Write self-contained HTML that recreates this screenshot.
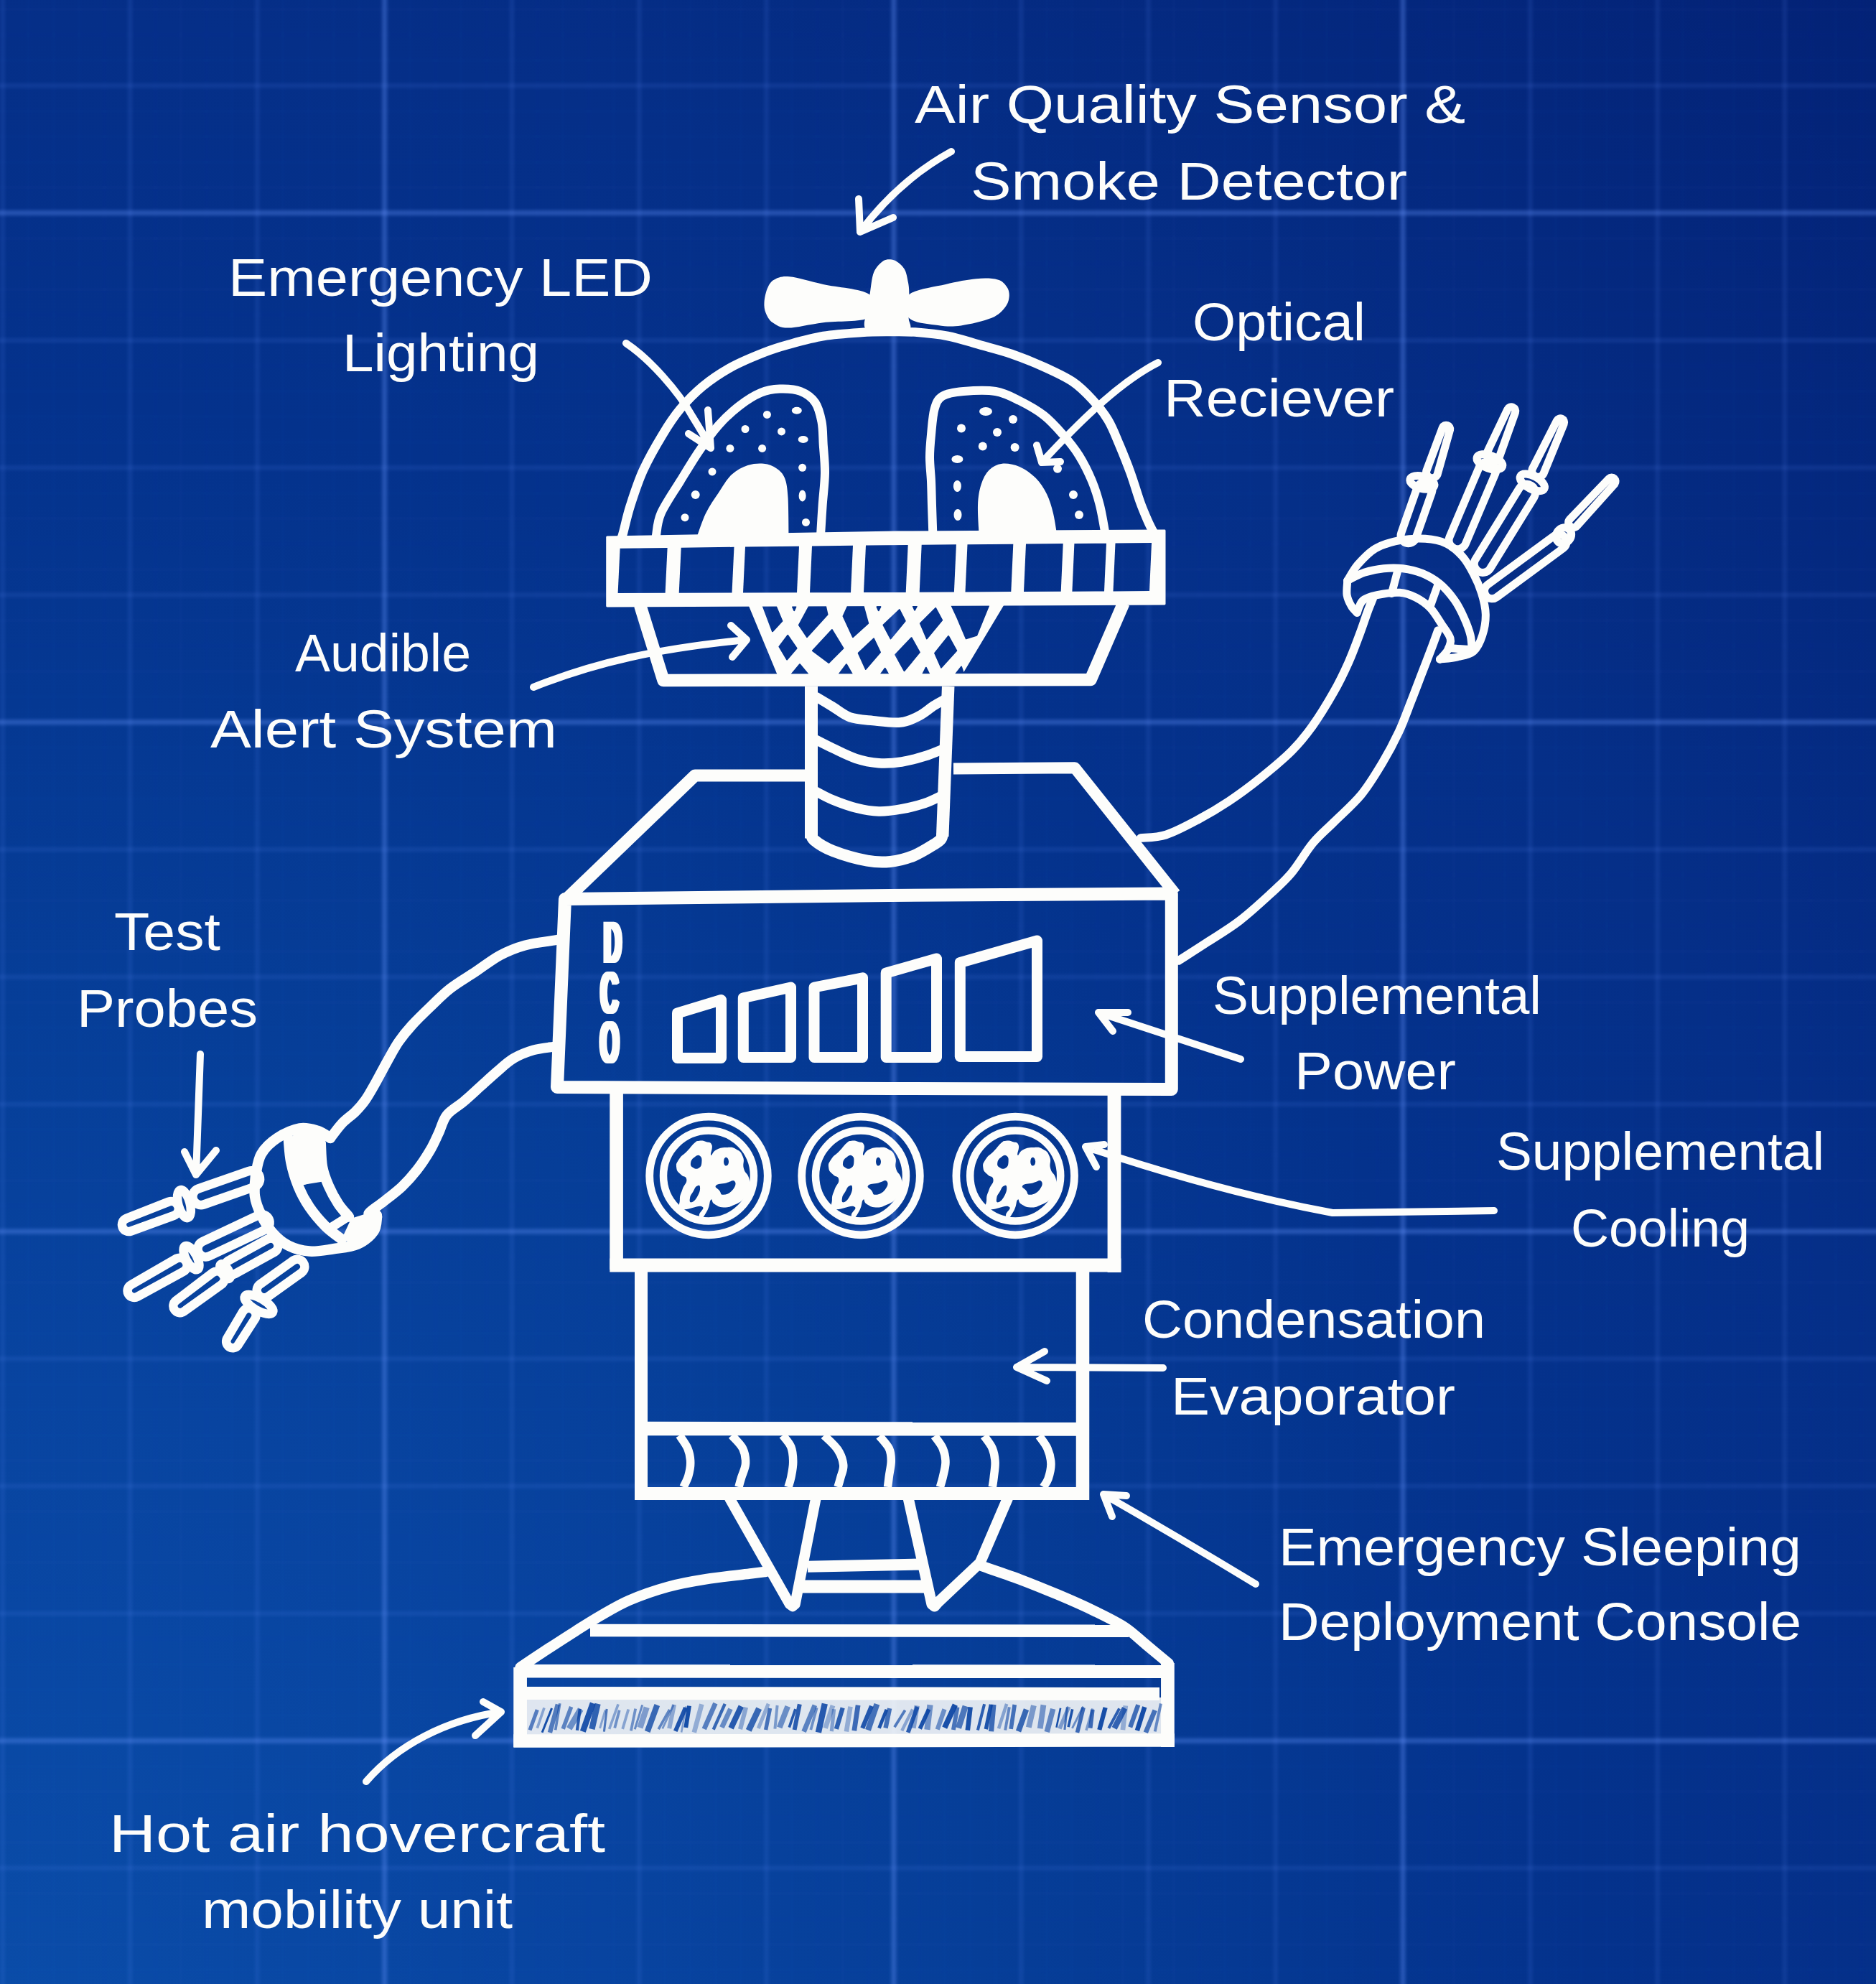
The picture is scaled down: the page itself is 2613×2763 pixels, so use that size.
<!DOCTYPE html>
<html><head><meta charset="utf-8"><title>Robot blueprint</title>
<style>html,body{margin:0;padding:0;background:#05348e;width:2613px;height:2763px;overflow:hidden}svg{display:block}
text{font-family:"Liberation Sans",sans-serif;fill:#fdfdfb}</style></head>
<body><svg width="2613" height="2763" viewBox="0 0 2613 2763">
<defs>
<radialGradient id="bg" gradientUnits="userSpaceOnUse" cx="0" cy="2763" r="3803">
<stop offset="0" stop-color="#0a4ca8"/><stop offset="0.22" stop-color="#0844a0"/>
<stop offset="0.36" stop-color="#063e98"/><stop offset="0.58" stop-color="#04328c"/>
<stop offset="0.72" stop-color="#052f88"/><stop offset="1" stop-color="#032276"/>
</radialGradient>
<filter id="soft" x="-5%" y="-5%" width="110%" height="110%"><feGaussianBlur stdDeviation="2"/></filter>
</defs>
<rect width="2613" height="2763" fill="url(#bg)"/>
<g filter="url(#soft)"><line x1="-173.5" y1="-30" x2="-173.5" y2="2793" stroke="#5a8cff" stroke-opacity="0.022" stroke-width="4"/><line x1="-138.0" y1="-30" x2="-138.0" y2="2793" stroke="#5a8cff" stroke-opacity="0.022" stroke-width="4"/><line x1="-102.6" y1="-30" x2="-102.6" y2="2793" stroke="#5a8cff" stroke-opacity="0.022" stroke-width="4"/><line x1="-67.1" y1="-30" x2="-67.1" y2="2793" stroke="#5a8cff" stroke-opacity="0.022" stroke-width="4"/><line x1="-31.7" y1="-30" x2="-31.7" y2="2793" stroke="#5a8cff" stroke-opacity="0.022" stroke-width="4"/><line x1="3.8" y1="-30" x2="3.8" y2="2793" stroke="#5a8cff" stroke-opacity="0.022" stroke-width="4"/><line x1="39.3" y1="-30" x2="39.3" y2="2793" stroke="#5a8cff" stroke-opacity="0.022" stroke-width="4"/><line x1="74.7" y1="-30" x2="74.7" y2="2793" stroke="#5a8cff" stroke-opacity="0.022" stroke-width="4"/><line x1="110.2" y1="-30" x2="110.2" y2="2793" stroke="#5a8cff" stroke-opacity="0.022" stroke-width="4"/><line x1="145.6" y1="-30" x2="145.6" y2="2793" stroke="#5a8cff" stroke-opacity="0.022" stroke-width="4"/><line x1="181.1" y1="-30" x2="181.1" y2="2793" stroke="#5a8cff" stroke-opacity="0.022" stroke-width="4"/><line x1="216.6" y1="-30" x2="216.6" y2="2793" stroke="#5a8cff" stroke-opacity="0.022" stroke-width="4"/><line x1="252.0" y1="-30" x2="252.0" y2="2793" stroke="#5a8cff" stroke-opacity="0.022" stroke-width="4"/><line x1="287.5" y1="-30" x2="287.5" y2="2793" stroke="#5a8cff" stroke-opacity="0.022" stroke-width="4"/><line x1="322.9" y1="-30" x2="322.9" y2="2793" stroke="#5a8cff" stroke-opacity="0.022" stroke-width="4"/><line x1="358.4" y1="-30" x2="358.4" y2="2793" stroke="#5a8cff" stroke-opacity="0.022" stroke-width="4"/><line x1="393.9" y1="-30" x2="393.9" y2="2793" stroke="#5a8cff" stroke-opacity="0.022" stroke-width="4"/><line x1="429.3" y1="-30" x2="429.3" y2="2793" stroke="#5a8cff" stroke-opacity="0.022" stroke-width="4"/><line x1="464.8" y1="-30" x2="464.8" y2="2793" stroke="#5a8cff" stroke-opacity="0.022" stroke-width="4"/><line x1="500.2" y1="-30" x2="500.2" y2="2793" stroke="#5a8cff" stroke-opacity="0.022" stroke-width="4"/><line x1="535.7" y1="-30" x2="535.7" y2="2793" stroke="#5a8cff" stroke-opacity="0.022" stroke-width="4"/><line x1="571.2" y1="-30" x2="571.2" y2="2793" stroke="#5a8cff" stroke-opacity="0.022" stroke-width="4"/><line x1="606.6" y1="-30" x2="606.6" y2="2793" stroke="#5a8cff" stroke-opacity="0.022" stroke-width="4"/><line x1="642.1" y1="-30" x2="642.1" y2="2793" stroke="#5a8cff" stroke-opacity="0.022" stroke-width="4"/><line x1="677.5" y1="-30" x2="677.5" y2="2793" stroke="#5a8cff" stroke-opacity="0.022" stroke-width="4"/><line x1="713.0" y1="-30" x2="713.0" y2="2793" stroke="#5a8cff" stroke-opacity="0.022" stroke-width="4"/><line x1="748.5" y1="-30" x2="748.5" y2="2793" stroke="#5a8cff" stroke-opacity="0.022" stroke-width="4"/><line x1="783.9" y1="-30" x2="783.9" y2="2793" stroke="#5a8cff" stroke-opacity="0.022" stroke-width="4"/><line x1="819.4" y1="-30" x2="819.4" y2="2793" stroke="#5a8cff" stroke-opacity="0.022" stroke-width="4"/><line x1="854.8" y1="-30" x2="854.8" y2="2793" stroke="#5a8cff" stroke-opacity="0.022" stroke-width="4"/><line x1="890.3" y1="-30" x2="890.3" y2="2793" stroke="#5a8cff" stroke-opacity="0.022" stroke-width="4"/><line x1="925.8" y1="-30" x2="925.8" y2="2793" stroke="#5a8cff" stroke-opacity="0.022" stroke-width="4"/><line x1="961.2" y1="-30" x2="961.2" y2="2793" stroke="#5a8cff" stroke-opacity="0.022" stroke-width="4"/><line x1="996.7" y1="-30" x2="996.7" y2="2793" stroke="#5a8cff" stroke-opacity="0.022" stroke-width="4"/><line x1="1032.1" y1="-30" x2="1032.1" y2="2793" stroke="#5a8cff" stroke-opacity="0.022" stroke-width="4"/><line x1="1067.6" y1="-30" x2="1067.6" y2="2793" stroke="#5a8cff" stroke-opacity="0.022" stroke-width="4"/><line x1="1103.1" y1="-30" x2="1103.1" y2="2793" stroke="#5a8cff" stroke-opacity="0.022" stroke-width="4"/><line x1="1138.5" y1="-30" x2="1138.5" y2="2793" stroke="#5a8cff" stroke-opacity="0.022" stroke-width="4"/><line x1="1174.0" y1="-30" x2="1174.0" y2="2793" stroke="#5a8cff" stroke-opacity="0.022" stroke-width="4"/><line x1="1209.4" y1="-30" x2="1209.4" y2="2793" stroke="#5a8cff" stroke-opacity="0.022" stroke-width="4"/><line x1="1244.9" y1="-30" x2="1244.9" y2="2793" stroke="#5a8cff" stroke-opacity="0.022" stroke-width="4"/><line x1="1280.4" y1="-30" x2="1280.4" y2="2793" stroke="#5a8cff" stroke-opacity="0.022" stroke-width="4"/><line x1="1315.8" y1="-30" x2="1315.8" y2="2793" stroke="#5a8cff" stroke-opacity="0.022" stroke-width="4"/><line x1="1351.3" y1="-30" x2="1351.3" y2="2793" stroke="#5a8cff" stroke-opacity="0.022" stroke-width="4"/><line x1="1386.7" y1="-30" x2="1386.7" y2="2793" stroke="#5a8cff" stroke-opacity="0.022" stroke-width="4"/><line x1="1422.2" y1="-30" x2="1422.2" y2="2793" stroke="#5a8cff" stroke-opacity="0.022" stroke-width="4"/><line x1="1457.7" y1="-30" x2="1457.7" y2="2793" stroke="#5a8cff" stroke-opacity="0.022" stroke-width="4"/><line x1="1493.1" y1="-30" x2="1493.1" y2="2793" stroke="#5a8cff" stroke-opacity="0.022" stroke-width="4"/><line x1="1528.6" y1="-30" x2="1528.6" y2="2793" stroke="#5a8cff" stroke-opacity="0.022" stroke-width="4"/><line x1="1564.0" y1="-30" x2="1564.0" y2="2793" stroke="#5a8cff" stroke-opacity="0.022" stroke-width="4"/><line x1="1599.5" y1="-30" x2="1599.5" y2="2793" stroke="#5a8cff" stroke-opacity="0.022" stroke-width="4"/><line x1="1635.0" y1="-30" x2="1635.0" y2="2793" stroke="#5a8cff" stroke-opacity="0.022" stroke-width="4"/><line x1="1670.4" y1="-30" x2="1670.4" y2="2793" stroke="#5a8cff" stroke-opacity="0.022" stroke-width="4"/><line x1="1705.9" y1="-30" x2="1705.9" y2="2793" stroke="#5a8cff" stroke-opacity="0.022" stroke-width="4"/><line x1="1741.3" y1="-30" x2="1741.3" y2="2793" stroke="#5a8cff" stroke-opacity="0.022" stroke-width="4"/><line x1="1776.8" y1="-30" x2="1776.8" y2="2793" stroke="#5a8cff" stroke-opacity="0.022" stroke-width="4"/><line x1="1812.3" y1="-30" x2="1812.3" y2="2793" stroke="#5a8cff" stroke-opacity="0.022" stroke-width="4"/><line x1="1847.7" y1="-30" x2="1847.7" y2="2793" stroke="#5a8cff" stroke-opacity="0.022" stroke-width="4"/><line x1="1883.2" y1="-30" x2="1883.2" y2="2793" stroke="#5a8cff" stroke-opacity="0.022" stroke-width="4"/><line x1="1918.6" y1="-30" x2="1918.6" y2="2793" stroke="#5a8cff" stroke-opacity="0.022" stroke-width="4"/><line x1="1954.1" y1="-30" x2="1954.1" y2="2793" stroke="#5a8cff" stroke-opacity="0.022" stroke-width="4"/><line x1="1989.6" y1="-30" x2="1989.6" y2="2793" stroke="#5a8cff" stroke-opacity="0.022" stroke-width="4"/><line x1="2025.0" y1="-30" x2="2025.0" y2="2793" stroke="#5a8cff" stroke-opacity="0.022" stroke-width="4"/><line x1="2060.5" y1="-30" x2="2060.5" y2="2793" stroke="#5a8cff" stroke-opacity="0.022" stroke-width="4"/><line x1="2095.9" y1="-30" x2="2095.9" y2="2793" stroke="#5a8cff" stroke-opacity="0.022" stroke-width="4"/><line x1="2131.4" y1="-30" x2="2131.4" y2="2793" stroke="#5a8cff" stroke-opacity="0.022" stroke-width="4"/><line x1="2166.9" y1="-30" x2="2166.9" y2="2793" stroke="#5a8cff" stroke-opacity="0.022" stroke-width="4"/><line x1="2202.3" y1="-30" x2="2202.3" y2="2793" stroke="#5a8cff" stroke-opacity="0.022" stroke-width="4"/><line x1="2237.8" y1="-30" x2="2237.8" y2="2793" stroke="#5a8cff" stroke-opacity="0.022" stroke-width="4"/><line x1="2273.2" y1="-30" x2="2273.2" y2="2793" stroke="#5a8cff" stroke-opacity="0.022" stroke-width="4"/><line x1="2308.7" y1="-30" x2="2308.7" y2="2793" stroke="#5a8cff" stroke-opacity="0.022" stroke-width="4"/><line x1="2344.2" y1="-30" x2="2344.2" y2="2793" stroke="#5a8cff" stroke-opacity="0.022" stroke-width="4"/><line x1="2379.6" y1="-30" x2="2379.6" y2="2793" stroke="#5a8cff" stroke-opacity="0.022" stroke-width="4"/><line x1="2415.1" y1="-30" x2="2415.1" y2="2793" stroke="#5a8cff" stroke-opacity="0.022" stroke-width="4"/><line x1="2450.5" y1="-30" x2="2450.5" y2="2793" stroke="#5a8cff" stroke-opacity="0.022" stroke-width="4"/><line x1="2486.0" y1="-30" x2="2486.0" y2="2793" stroke="#5a8cff" stroke-opacity="0.022" stroke-width="4"/><line x1="2521.5" y1="-30" x2="2521.5" y2="2793" stroke="#5a8cff" stroke-opacity="0.022" stroke-width="4"/><line x1="2556.9" y1="-30" x2="2556.9" y2="2793" stroke="#5a8cff" stroke-opacity="0.022" stroke-width="4"/><line x1="2592.4" y1="-30" x2="2592.4" y2="2793" stroke="#5a8cff" stroke-opacity="0.022" stroke-width="4"/><line x1="-30" y1="-58.0" x2="2643" y2="-58.0" stroke="#5a8cff" stroke-opacity="0.022" stroke-width="4"/><line x1="-30" y1="-22.5" x2="2643" y2="-22.5" stroke="#5a8cff" stroke-opacity="0.022" stroke-width="4"/><line x1="-30" y1="12.9" x2="2643" y2="12.9" stroke="#5a8cff" stroke-opacity="0.022" stroke-width="4"/><line x1="-30" y1="48.4" x2="2643" y2="48.4" stroke="#5a8cff" stroke-opacity="0.022" stroke-width="4"/><line x1="-30" y1="83.8" x2="2643" y2="83.8" stroke="#5a8cff" stroke-opacity="0.022" stroke-width="4"/><line x1="-30" y1="119.3" x2="2643" y2="119.3" stroke="#5a8cff" stroke-opacity="0.022" stroke-width="4"/><line x1="-30" y1="154.8" x2="2643" y2="154.8" stroke="#5a8cff" stroke-opacity="0.022" stroke-width="4"/><line x1="-30" y1="190.2" x2="2643" y2="190.2" stroke="#5a8cff" stroke-opacity="0.022" stroke-width="4"/><line x1="-30" y1="225.7" x2="2643" y2="225.7" stroke="#5a8cff" stroke-opacity="0.022" stroke-width="4"/><line x1="-30" y1="261.1" x2="2643" y2="261.1" stroke="#5a8cff" stroke-opacity="0.022" stroke-width="4"/><line x1="-30" y1="296.6" x2="2643" y2="296.6" stroke="#5a8cff" stroke-opacity="0.022" stroke-width="4"/><line x1="-30" y1="332.1" x2="2643" y2="332.1" stroke="#5a8cff" stroke-opacity="0.022" stroke-width="4"/><line x1="-30" y1="367.5" x2="2643" y2="367.5" stroke="#5a8cff" stroke-opacity="0.022" stroke-width="4"/><line x1="-30" y1="403.0" x2="2643" y2="403.0" stroke="#5a8cff" stroke-opacity="0.022" stroke-width="4"/><line x1="-30" y1="438.4" x2="2643" y2="438.4" stroke="#5a8cff" stroke-opacity="0.022" stroke-width="4"/><line x1="-30" y1="473.9" x2="2643" y2="473.9" stroke="#5a8cff" stroke-opacity="0.022" stroke-width="4"/><line x1="-30" y1="509.4" x2="2643" y2="509.4" stroke="#5a8cff" stroke-opacity="0.022" stroke-width="4"/><line x1="-30" y1="544.8" x2="2643" y2="544.8" stroke="#5a8cff" stroke-opacity="0.022" stroke-width="4"/><line x1="-30" y1="580.3" x2="2643" y2="580.3" stroke="#5a8cff" stroke-opacity="0.022" stroke-width="4"/><line x1="-30" y1="615.7" x2="2643" y2="615.7" stroke="#5a8cff" stroke-opacity="0.022" stroke-width="4"/><line x1="-30" y1="651.2" x2="2643" y2="651.2" stroke="#5a8cff" stroke-opacity="0.022" stroke-width="4"/><line x1="-30" y1="686.7" x2="2643" y2="686.7" stroke="#5a8cff" stroke-opacity="0.022" stroke-width="4"/><line x1="-30" y1="722.1" x2="2643" y2="722.1" stroke="#5a8cff" stroke-opacity="0.022" stroke-width="4"/><line x1="-30" y1="757.6" x2="2643" y2="757.6" stroke="#5a8cff" stroke-opacity="0.022" stroke-width="4"/><line x1="-30" y1="793.0" x2="2643" y2="793.0" stroke="#5a8cff" stroke-opacity="0.022" stroke-width="4"/><line x1="-30" y1="828.5" x2="2643" y2="828.5" stroke="#5a8cff" stroke-opacity="0.022" stroke-width="4"/><line x1="-30" y1="864.0" x2="2643" y2="864.0" stroke="#5a8cff" stroke-opacity="0.022" stroke-width="4"/><line x1="-30" y1="899.4" x2="2643" y2="899.4" stroke="#5a8cff" stroke-opacity="0.022" stroke-width="4"/><line x1="-30" y1="934.9" x2="2643" y2="934.9" stroke="#5a8cff" stroke-opacity="0.022" stroke-width="4"/><line x1="-30" y1="970.3" x2="2643" y2="970.3" stroke="#5a8cff" stroke-opacity="0.022" stroke-width="4"/><line x1="-30" y1="1005.8" x2="2643" y2="1005.8" stroke="#5a8cff" stroke-opacity="0.022" stroke-width="4"/><line x1="-30" y1="1041.3" x2="2643" y2="1041.3" stroke="#5a8cff" stroke-opacity="0.022" stroke-width="4"/><line x1="-30" y1="1076.7" x2="2643" y2="1076.7" stroke="#5a8cff" stroke-opacity="0.022" stroke-width="4"/><line x1="-30" y1="1112.2" x2="2643" y2="1112.2" stroke="#5a8cff" stroke-opacity="0.022" stroke-width="4"/><line x1="-30" y1="1147.6" x2="2643" y2="1147.6" stroke="#5a8cff" stroke-opacity="0.022" stroke-width="4"/><line x1="-30" y1="1183.1" x2="2643" y2="1183.1" stroke="#5a8cff" stroke-opacity="0.022" stroke-width="4"/><line x1="-30" y1="1218.6" x2="2643" y2="1218.6" stroke="#5a8cff" stroke-opacity="0.022" stroke-width="4"/><line x1="-30" y1="1254.0" x2="2643" y2="1254.0" stroke="#5a8cff" stroke-opacity="0.022" stroke-width="4"/><line x1="-30" y1="1289.5" x2="2643" y2="1289.5" stroke="#5a8cff" stroke-opacity="0.022" stroke-width="4"/><line x1="-30" y1="1324.9" x2="2643" y2="1324.9" stroke="#5a8cff" stroke-opacity="0.022" stroke-width="4"/><line x1="-30" y1="1360.4" x2="2643" y2="1360.4" stroke="#5a8cff" stroke-opacity="0.022" stroke-width="4"/><line x1="-30" y1="1395.9" x2="2643" y2="1395.9" stroke="#5a8cff" stroke-opacity="0.022" stroke-width="4"/><line x1="-30" y1="1431.3" x2="2643" y2="1431.3" stroke="#5a8cff" stroke-opacity="0.022" stroke-width="4"/><line x1="-30" y1="1466.8" x2="2643" y2="1466.8" stroke="#5a8cff" stroke-opacity="0.022" stroke-width="4"/><line x1="-30" y1="1502.2" x2="2643" y2="1502.2" stroke="#5a8cff" stroke-opacity="0.022" stroke-width="4"/><line x1="-30" y1="1537.7" x2="2643" y2="1537.7" stroke="#5a8cff" stroke-opacity="0.022" stroke-width="4"/><line x1="-30" y1="1573.2" x2="2643" y2="1573.2" stroke="#5a8cff" stroke-opacity="0.022" stroke-width="4"/><line x1="-30" y1="1608.6" x2="2643" y2="1608.6" stroke="#5a8cff" stroke-opacity="0.022" stroke-width="4"/><line x1="-30" y1="1644.1" x2="2643" y2="1644.1" stroke="#5a8cff" stroke-opacity="0.022" stroke-width="4"/><line x1="-30" y1="1679.5" x2="2643" y2="1679.5" stroke="#5a8cff" stroke-opacity="0.022" stroke-width="4"/><line x1="-30" y1="1715.0" x2="2643" y2="1715.0" stroke="#5a8cff" stroke-opacity="0.022" stroke-width="4"/><line x1="-30" y1="1750.5" x2="2643" y2="1750.5" stroke="#5a8cff" stroke-opacity="0.022" stroke-width="4"/><line x1="-30" y1="1785.9" x2="2643" y2="1785.9" stroke="#5a8cff" stroke-opacity="0.022" stroke-width="4"/><line x1="-30" y1="1821.4" x2="2643" y2="1821.4" stroke="#5a8cff" stroke-opacity="0.022" stroke-width="4"/><line x1="-30" y1="1856.8" x2="2643" y2="1856.8" stroke="#5a8cff" stroke-opacity="0.022" stroke-width="4"/><line x1="-30" y1="1892.3" x2="2643" y2="1892.3" stroke="#5a8cff" stroke-opacity="0.022" stroke-width="4"/><line x1="-30" y1="1927.8" x2="2643" y2="1927.8" stroke="#5a8cff" stroke-opacity="0.022" stroke-width="4"/><line x1="-30" y1="1963.2" x2="2643" y2="1963.2" stroke="#5a8cff" stroke-opacity="0.022" stroke-width="4"/><line x1="-30" y1="1998.7" x2="2643" y2="1998.7" stroke="#5a8cff" stroke-opacity="0.022" stroke-width="4"/><line x1="-30" y1="2034.1" x2="2643" y2="2034.1" stroke="#5a8cff" stroke-opacity="0.022" stroke-width="4"/><line x1="-30" y1="2069.6" x2="2643" y2="2069.6" stroke="#5a8cff" stroke-opacity="0.022" stroke-width="4"/><line x1="-30" y1="2105.1" x2="2643" y2="2105.1" stroke="#5a8cff" stroke-opacity="0.022" stroke-width="4"/><line x1="-30" y1="2140.5" x2="2643" y2="2140.5" stroke="#5a8cff" stroke-opacity="0.022" stroke-width="4"/><line x1="-30" y1="2176.0" x2="2643" y2="2176.0" stroke="#5a8cff" stroke-opacity="0.022" stroke-width="4"/><line x1="-30" y1="2211.4" x2="2643" y2="2211.4" stroke="#5a8cff" stroke-opacity="0.022" stroke-width="4"/><line x1="-30" y1="2246.9" x2="2643" y2="2246.9" stroke="#5a8cff" stroke-opacity="0.022" stroke-width="4"/><line x1="-30" y1="2282.4" x2="2643" y2="2282.4" stroke="#5a8cff" stroke-opacity="0.022" stroke-width="4"/><line x1="-30" y1="2317.8" x2="2643" y2="2317.8" stroke="#5a8cff" stroke-opacity="0.022" stroke-width="4"/><line x1="-30" y1="2353.3" x2="2643" y2="2353.3" stroke="#5a8cff" stroke-opacity="0.022" stroke-width="4"/><line x1="-30" y1="2388.7" x2="2643" y2="2388.7" stroke="#5a8cff" stroke-opacity="0.022" stroke-width="4"/><line x1="-30" y1="2424.2" x2="2643" y2="2424.2" stroke="#5a8cff" stroke-opacity="0.022" stroke-width="4"/><line x1="-30" y1="2459.7" x2="2643" y2="2459.7" stroke="#5a8cff" stroke-opacity="0.022" stroke-width="4"/><line x1="-30" y1="2495.1" x2="2643" y2="2495.1" stroke="#5a8cff" stroke-opacity="0.022" stroke-width="4"/><line x1="-30" y1="2530.6" x2="2643" y2="2530.6" stroke="#5a8cff" stroke-opacity="0.022" stroke-width="4"/><line x1="-30" y1="2566.0" x2="2643" y2="2566.0" stroke="#5a8cff" stroke-opacity="0.022" stroke-width="4"/><line x1="-30" y1="2601.5" x2="2643" y2="2601.5" stroke="#5a8cff" stroke-opacity="0.022" stroke-width="4"/><line x1="-30" y1="2637.0" x2="2643" y2="2637.0" stroke="#5a8cff" stroke-opacity="0.022" stroke-width="4"/><line x1="-30" y1="2672.4" x2="2643" y2="2672.4" stroke="#5a8cff" stroke-opacity="0.022" stroke-width="4"/><line x1="-30" y1="2707.9" x2="2643" y2="2707.9" stroke="#5a8cff" stroke-opacity="0.022" stroke-width="4"/><line x1="-30" y1="2743.3" x2="2643" y2="2743.3" stroke="#5a8cff" stroke-opacity="0.022" stroke-width="4"/><line x1="-173.5" y1="-30" x2="-173.5" y2="2793" stroke="#6a98ff" stroke-opacity="0.33" stroke-width="7"/><line x1="3.8" y1="-30" x2="3.8" y2="2793" stroke="#6a98ff" stroke-opacity="0.115" stroke-width="6"/><line x1="181.1" y1="-30" x2="181.1" y2="2793" stroke="#6a98ff" stroke-opacity="0.115" stroke-width="6"/><line x1="358.4" y1="-30" x2="358.4" y2="2793" stroke="#6a98ff" stroke-opacity="0.115" stroke-width="6"/><line x1="535.7" y1="-30" x2="535.7" y2="2793" stroke="#6a98ff" stroke-opacity="0.33" stroke-width="7"/><line x1="713.0" y1="-30" x2="713.0" y2="2793" stroke="#6a98ff" stroke-opacity="0.115" stroke-width="6"/><line x1="890.3" y1="-30" x2="890.3" y2="2793" stroke="#6a98ff" stroke-opacity="0.115" stroke-width="6"/><line x1="1067.6" y1="-30" x2="1067.6" y2="2793" stroke="#6a98ff" stroke-opacity="0.115" stroke-width="6"/><line x1="1244.9" y1="-30" x2="1244.9" y2="2793" stroke="#6a98ff" stroke-opacity="0.33" stroke-width="7"/><line x1="1422.2" y1="-30" x2="1422.2" y2="2793" stroke="#6a98ff" stroke-opacity="0.115" stroke-width="6"/><line x1="1599.5" y1="-30" x2="1599.5" y2="2793" stroke="#6a98ff" stroke-opacity="0.115" stroke-width="6"/><line x1="1776.8" y1="-30" x2="1776.8" y2="2793" stroke="#6a98ff" stroke-opacity="0.115" stroke-width="6"/><line x1="1954.1" y1="-30" x2="1954.1" y2="2793" stroke="#6a98ff" stroke-opacity="0.33" stroke-width="7"/><line x1="2131.4" y1="-30" x2="2131.4" y2="2793" stroke="#6a98ff" stroke-opacity="0.115" stroke-width="6"/><line x1="2308.7" y1="-30" x2="2308.7" y2="2793" stroke="#6a98ff" stroke-opacity="0.115" stroke-width="6"/><line x1="2486.0" y1="-30" x2="2486.0" y2="2793" stroke="#6a98ff" stroke-opacity="0.115" stroke-width="6"/><line x1="2663.3" y1="-30" x2="2663.3" y2="2793" stroke="#6a98ff" stroke-opacity="0.33" stroke-width="7"/><line x1="-30" y1="-58.0" x2="2643" y2="-58.0" stroke="#6a98ff" stroke-opacity="0.115" stroke-width="6"/><line x1="-30" y1="119.3" x2="2643" y2="119.3" stroke="#6a98ff" stroke-opacity="0.115" stroke-width="6"/><line x1="-30" y1="296.6" x2="2643" y2="296.6" stroke="#6a98ff" stroke-opacity="0.33" stroke-width="7"/><line x1="-30" y1="473.9" x2="2643" y2="473.9" stroke="#6a98ff" stroke-opacity="0.115" stroke-width="6"/><line x1="-30" y1="651.2" x2="2643" y2="651.2" stroke="#6a98ff" stroke-opacity="0.115" stroke-width="6"/><line x1="-30" y1="828.5" x2="2643" y2="828.5" stroke="#6a98ff" stroke-opacity="0.115" stroke-width="6"/><line x1="-30" y1="1005.8" x2="2643" y2="1005.8" stroke="#6a98ff" stroke-opacity="0.33" stroke-width="7"/><line x1="-30" y1="1183.1" x2="2643" y2="1183.1" stroke="#6a98ff" stroke-opacity="0.115" stroke-width="6"/><line x1="-30" y1="1360.4" x2="2643" y2="1360.4" stroke="#6a98ff" stroke-opacity="0.115" stroke-width="6"/><line x1="-30" y1="1537.7" x2="2643" y2="1537.7" stroke="#6a98ff" stroke-opacity="0.115" stroke-width="6"/><line x1="-30" y1="1715.0" x2="2643" y2="1715.0" stroke="#6a98ff" stroke-opacity="0.33" stroke-width="7"/><line x1="-30" y1="1892.3" x2="2643" y2="1892.3" stroke="#6a98ff" stroke-opacity="0.115" stroke-width="6"/><line x1="-30" y1="2069.6" x2="2643" y2="2069.6" stroke="#6a98ff" stroke-opacity="0.115" stroke-width="6"/><line x1="-30" y1="2246.9" x2="2643" y2="2246.9" stroke="#6a98ff" stroke-opacity="0.115" stroke-width="6"/><line x1="-30" y1="2424.2" x2="2643" y2="2424.2" stroke="#6a98ff" stroke-opacity="0.33" stroke-width="7"/><line x1="-30" y1="2601.5" x2="2643" y2="2601.5" stroke="#6a98ff" stroke-opacity="0.115" stroke-width="6"/><line x1="-30" y1="2778.8" x2="2643" y2="2778.8" stroke="#6a98ff" stroke-opacity="0.115" stroke-width="6"/><line x1="-30" y1="2956.1" x2="2643" y2="2956.1" stroke="#6a98ff" stroke-opacity="0.115" stroke-width="6"/></g>
<g id="robot">
<path d="M1064.5,421.0 C1064.9,415.3 1066.5,407.1 1068.8,401.8 C1071.1,396.6 1073.2,392.2 1078.4,389.5 C1083.5,386.7 1088.3,384.1 1099.7,385.2 C1111.1,386.3 1128.1,391.8 1146.6,395.9 C1165.1,400.0 1199.9,402.0 1210.6,409.7 C1221.2,417.5 1221.2,435.8 1210.6,442.3 C1199.9,448.9 1165.4,446.8 1146.6,449.2 C1127.8,451.5 1109.3,456.6 1097.6,456.6 C1085.8,456.6 1081.4,452.6 1076.2,449.2 C1071.1,445.7 1068.6,440.6 1066.7,435.9 C1064.7,431.3 1064.2,426.7 1064.5,421.0 Z" fill="#fdfdfb" />
<path d="M1266.0,410.4 C1274.5,402.5 1301.5,399.6 1317.2,395.9 C1332.8,392.2 1347.7,389.3 1359.8,388.2 C1371.9,387.1 1382.6,387.5 1389.7,389.5 C1396.8,391.4 1399.8,395.9 1402.5,399.7 C1405.1,403.5 1406.0,407.9 1405.7,412.5 C1405.3,417.1 1404.4,422.4 1400.3,427.4 C1396.3,432.5 1391.5,438.4 1381.2,442.8 C1370.8,447.1 1350.9,451.7 1338.5,453.4 C1326.1,455.1 1318.6,454.8 1306.5,453.0 C1294.4,451.2 1272.8,449.9 1266.0,442.8 C1259.3,435.7 1257.5,418.2 1266.0,410.4 Z" fill="#fdfdfb" />
<path d="M1207.4,459.4 C1199.0,454.9 1207.8,437.1 1208.4,429.6 C1209.1,422.0 1210.4,416.8 1211.6,409.3 C1212.9,401.8 1214.1,386.4 1217.0,379.4 C1219.9,372.5 1226.5,365.6 1230.8,363.0 C1235.1,360.5 1241.4,360.9 1245.8,362.6 C1250.1,364.3 1256.7,369.9 1259.6,374.5 C1262.5,379.1 1263.9,387.9 1264.9,393.3 C1266.0,398.7 1266.3,403.0 1266.4,410.4 C1266.5,417.7 1265.9,435.0 1265.6,442.3 C1265.3,449.7 1273.0,456.8 1264.3,459.4 C1255.6,462.0 1215.8,463.9 1207.4,459.4 Z" fill="#fdfdfb" />
<path d="M866.0,748.0 C866.3,747.0 866.0,749.3 868.0,742.0 C870.0,734.7 873.3,718.6 878.0,704.0 C882.7,689.4 888.5,671.0 896.0,654.6 C903.5,638.2 914.2,619.6 922.8,605.4 C931.4,591.2 938.2,580.8 947.5,569.6 C956.8,558.4 966.9,547.8 978.8,538.0 C990.7,528.2 1004.8,518.8 1019.0,511.0 C1033.2,503.2 1050.8,496.2 1063.9,491.0 C1077.0,485.8 1083.7,483.8 1097.5,480.0 C1111.3,476.2 1129.9,470.8 1147.0,468.0 C1164.1,465.2 1184.5,464.0 1200.0,463.0 C1215.5,462.0 1227.6,462.1 1240.0,462.0 C1252.4,461.9 1261.2,461.6 1274.5,462.6 C1287.8,463.6 1305.1,465.1 1320.0,468.0 C1334.9,470.9 1349.2,475.8 1364.0,480.0 C1378.8,484.2 1394.0,487.8 1409.0,493.0 C1424.0,498.2 1439.8,504.6 1454.0,511.0 C1468.2,517.4 1482.8,524.0 1494.0,531.5 C1505.2,539.0 1512.8,547.1 1521.0,556.0 C1529.2,564.9 1537.1,574.5 1543.4,585.0 C1549.7,595.5 1553.8,606.7 1559.0,619.0 C1564.2,631.3 1570.0,645.7 1574.8,659.0 C1579.6,672.3 1584.0,687.8 1588.0,699.0 C1592.0,710.2 1595.7,718.5 1599.0,726.0 C1602.3,733.5 1606.5,741.0 1608.0,744.0" fill="none" stroke="#fdfdfb" stroke-width="12.5" stroke-linecap="round" stroke-linejoin="round" />
<path d="M913.9,746.0 C915.0,740.8 915.0,727.7 920.6,715.0 C926.2,702.3 938.6,684.5 947.5,670.0 C956.4,655.5 965.1,640.8 974.0,627.8 C982.9,614.8 991.7,602.5 1001.0,592.0 C1010.3,581.5 1020.3,572.5 1030.0,565.0 C1039.7,557.5 1050.1,550.9 1059.4,547.0 C1068.7,543.1 1076.7,541.9 1086.0,541.6 C1095.3,541.3 1106.8,541.8 1115.0,545.0 C1123.2,548.2 1130.6,553.5 1135.5,560.6 C1140.4,567.7 1142.6,577.8 1144.5,587.5 C1146.4,597.2 1146.0,606.9 1146.7,618.8 C1147.5,630.7 1149.2,644.8 1149.0,659.0 C1148.8,673.2 1146.6,689.5 1145.6,704.0 C1144.6,718.5 1143.4,739.0 1143.0,746.0" fill="none" stroke="#fdfdfb" stroke-width="12" stroke-linecap="round" stroke-linejoin="round" />
<path d="M969.9,750.0 C972.1,744.2 977.8,725.7 983.0,715.0 C988.2,704.3 995.0,695.0 1001.0,686.0 C1007.0,677.0 1012.2,667.3 1019.0,661.0 C1025.8,654.7 1034.0,650.5 1041.5,648.0 C1049.0,645.5 1057.2,645.0 1063.9,645.7 C1070.6,646.4 1077.0,649.0 1081.8,652.4 C1086.6,655.8 1090.4,659.1 1093.0,665.8 C1095.6,672.5 1096.6,678.7 1097.5,692.7 C1098.4,706.7 1098.4,740.5 1098.6,750.0 Z" fill="#fdfdfb" />
<path d="M1299.4,746.0 C1299.2,739.0 1298.4,716.7 1298.0,704.0 C1297.6,691.3 1297.5,681.2 1297.0,670.0 C1296.5,658.8 1295.0,647.5 1295.0,636.7 C1295.0,625.9 1295.9,616.6 1297.0,605.4 C1298.1,594.2 1299.0,578.6 1301.6,569.6 C1304.2,560.6 1306.1,555.7 1312.8,551.6 C1319.5,547.5 1329.7,546.1 1342.0,545.0 C1354.3,543.9 1373.7,542.8 1386.7,545.0 C1399.7,547.2 1408.8,552.4 1420.0,558.0 C1431.2,563.6 1443.9,570.6 1454.0,578.5 C1464.1,586.4 1472.5,596.1 1480.7,605.4 C1488.9,614.7 1496.3,623.7 1503.0,634.5 C1509.7,645.3 1516.2,658.4 1521.0,670.0 C1525.8,681.6 1528.8,691.3 1532.0,704.0 C1535.2,716.7 1538.7,739.0 1540.0,746.0" fill="none" stroke="#fdfdfb" stroke-width="12" stroke-linecap="round" stroke-linejoin="round" />
<path d="M1364.0,750.0 C1363.7,742.3 1361.6,716.5 1362.0,704.0 C1362.4,691.5 1364.0,683.0 1366.6,674.8 C1369.2,666.6 1372.9,659.5 1377.8,654.6 C1382.7,649.8 1388.7,646.5 1395.7,645.7 C1402.7,644.9 1412.2,646.6 1420.0,650.0 C1427.8,653.4 1436.4,659.5 1442.7,665.8 C1449.0,672.1 1454.0,679.8 1458.0,688.0 C1462.0,696.2 1464.5,704.7 1467.0,715.0 C1469.5,725.3 1472.0,744.2 1473.0,750.0 Z" fill="#fdfdfb" />
<ellipse cx="1068.4" cy="577.4" rx="5.5" ry="5.5" fill="#fdfdfb"/>
<ellipse cx="1109.8" cy="571.8" rx="7" ry="5" fill="#fdfdfb"/>
<ellipse cx="1038" cy="597.5" rx="5.5" ry="5.5" fill="#fdfdfb"/>
<ellipse cx="1088.5" cy="600.9" rx="5.5" ry="5.5" fill="#fdfdfb"/>
<ellipse cx="1118.7" cy="612" rx="7" ry="5" fill="#fdfdfb"/>
<ellipse cx="1016.9" cy="624.4" rx="5.5" ry="5.5" fill="#fdfdfb"/>
<ellipse cx="1061.6" cy="624.4" rx="5.5" ry="5.5" fill="#fdfdfb"/>
<ellipse cx="1117.6" cy="651.3" rx="5.5" ry="5.5" fill="#fdfdfb"/>
<ellipse cx="992" cy="656.9" rx="5.5" ry="5.5" fill="#fdfdfb"/>
<ellipse cx="968.7" cy="689" rx="6" ry="6" fill="#fdfdfb"/>
<ellipse cx="1117.6" cy="690.4" rx="5" ry="8" fill="#fdfdfb"/>
<ellipse cx="954" cy="720.7" rx="5.5" ry="5.5" fill="#fdfdfb"/>
<ellipse cx="1122.5" cy="727.4" rx="5.5" ry="5.5" fill="#fdfdfb"/>
<ellipse cx="1373" cy="573" rx="9" ry="6" fill="#fdfdfb"/>
<ellipse cx="1411" cy="584" rx="6" ry="6" fill="#fdfdfb"/>
<ellipse cx="1339" cy="596.4" rx="6" ry="6" fill="#fdfdfb"/>
<ellipse cx="1389" cy="602" rx="6" ry="6" fill="#fdfdfb"/>
<ellipse cx="1368.8" cy="621.5" rx="6" ry="6" fill="#fdfdfb"/>
<ellipse cx="1413.6" cy="623" rx="6" ry="6" fill="#fdfdfb"/>
<ellipse cx="1333.4" cy="639.4" rx="8" ry="5.5" fill="#fdfdfb"/>
<ellipse cx="1473" cy="652.8" rx="6" ry="6" fill="#fdfdfb"/>
<ellipse cx="1333.4" cy="677" rx="5.5" ry="8" fill="#fdfdfb"/>
<ellipse cx="1495" cy="689" rx="6" ry="6" fill="#fdfdfb"/>
<ellipse cx="1334" cy="717" rx="5.5" ry="8" fill="#fdfdfb"/>
<ellipse cx="1503" cy="717" rx="6" ry="6" fill="#fdfdfb"/>
<mask id="vmask" maskUnits="userSpaceOnUse" x="800" y="700" width="900" height="200"><rect x="800" y="700" width="900" height="200" fill="#fff"/>
<path d="M863.6,763.8 L929.6,763.0 L926.6,825.8 L860.6,826.0 Z" fill="#000"/>
<path d="M948.7,762.7 L1022.5,761.8 L1019.5,825.6 L945.7,825.7 Z" fill="#000"/>
<path d="M1038,761.6 L1113,760.7 L1110,825.3 L1035,825.5 Z" fill="#000"/>
<path d="M1131,760.5 L1188,759.8 L1185,825.2 L1128,825.3 Z" fill="#000"/>
<path d="M1206,759.5 L1264.7,758.9 L1261.7,824.9 L1203,825.1 Z" fill="#000"/>
<path d="M1283.7,758.7 L1331.9,758.3 L1328.9,824.6 L1280.7,824.8 Z" fill="#000"/>
<path d="M1347.5,758.2 L1411.3,757.7 L1408.3,824.1 L1344.5,824.5 Z" fill="#000"/>
<path d="M1429,757.6 L1480.7,757.1 L1477.7,823.8 L1426,824.0 Z" fill="#000"/>
<path d="M1496.4,757.0 L1541,756.7 L1538,823.4 L1493.4,823.7 Z" fill="#000"/>
<path d="M1553.5,756.6 L1604,756.1 L1601,823.1 L1550.5,823.4 Z" fill="#000"/>
</mask>
<path d="M845.7,748.0 L1250.0,741.0 L1622.0,739.0 L1622.0,841.0 L1250.0,842.5 L845.7,844.0 Z" fill="#fdfdfb" stroke="#fdfdfb" stroke-width="3" stroke-linejoin="round" mask="url(#vmask)"/>
<path d="M891.6,843 L924,947.5 L1519,946.5 L1565,840" fill="none" stroke="#fdfdfb" stroke-width="17.5" stroke-linecap="butt" stroke-linejoin="round" />
<mask id="mmask" maskUnits="userSpaceOnUse" x="1000" y="800" width="450" height="180"><rect x="1000" y="800" width="450" height="180" fill="#fff"/>
<path d="M1062.5,843.5 L1080.4,843.5 L1089.4,864.8 L1076.0,879.3 Z" fill="#000" stroke="#000" stroke-width="2" stroke-linejoin="round"/>
<path d="M1127.5,843.5 L1149.8,843.5 L1152.5,855.8 L1124.1,887.2 L1112.9,870.4 Z" fill="#000" stroke="#000" stroke-width="2" stroke-linejoin="round"/>
<path d="M1181.2,843.5 L1202.5,843.5 L1209.2,868.1 L1187.9,887.2 L1174.5,858.1 Z" fill="#000" stroke="#000" stroke-width="2" stroke-linejoin="round"/>
<path d="M1252.8,849.1 L1260.7,864.8 L1240.5,889.4 L1230.4,870.4 Z" fill="#000" stroke="#000" stroke-width="2" stroke-linejoin="round"/>
<path d="M1303.2,846.9 L1312.2,863.7 L1290.9,889.4 L1281.9,868.1 Z" fill="#000" stroke="#000" stroke-width="2" stroke-linejoin="round"/>
<path d="M1325.6,843.5 L1377.1,843.5 L1360.3,884.9 L1345.7,889.4 L1333.4,860.3 Z" fill="#000" stroke="#000" stroke-width="2" stroke-linejoin="round"/>
<path d="M1097.2,884.9 L1109.6,902.8 L1096.1,918.5 L1085.4,900.6 Z" fill="#000" stroke="#000" stroke-width="2" stroke-linejoin="round"/>
<path d="M1158.8,877.1 L1174.5,902.8 L1154.3,923.0 L1131.9,906.2 Z" fill="#000" stroke="#000" stroke-width="2" stroke-linejoin="round"/>
<path d="M1217.0,889.4 L1226.0,908.4 L1205.8,931.9 L1195.7,909.6 Z" fill="#000" stroke="#000" stroke-width="2" stroke-linejoin="round"/>
<path d="M1269.6,888.3 L1280.8,908.4 L1259.6,934.2 L1247.2,911.8 Z" fill="#000" stroke="#000" stroke-width="2" stroke-linejoin="round"/>
<path d="M1321.1,886.0 L1332.3,906.2 L1311.0,929.7 L1302.1,909.6 Z" fill="#000" stroke="#000" stroke-width="2" stroke-linejoin="round"/>
<path d="M1114.0,925.2 L1125.2,938.7 L1102.8,938.7 Z" fill="#000" stroke="#000" stroke-width="2" stroke-linejoin="round"/>
<path d="M1179.0,925.2 L1186.8,938.7 L1168.9,938.7 Z" fill="#000" stroke="#000" stroke-width="2" stroke-linejoin="round"/>
<path d="M1232.7,930.8 L1237.2,938.7 L1227.1,938.7 Z" fill="#000" stroke="#000" stroke-width="2" stroke-linejoin="round"/>
<path d="M1289.8,929.7 L1294.3,938.7 L1285.3,938.7 Z" fill="#000" stroke="#000" stroke-width="2" stroke-linejoin="round"/>
<path d="M1339.0,928.6 L1342.4,938.7 L1331.2,938.7 Z" fill="#000" stroke="#000" stroke-width="2" stroke-linejoin="round"/>
<path d="M1104.0,845.1 L1108.4,845.1 L1106.2,850.2 Z" fill="#000" stroke="#000" stroke-width="2" stroke-linejoin="round"/>
<path d="M1221.5,845.1 L1226.4,845.1 L1223.7,850.2 Z" fill="#000" stroke="#000" stroke-width="2" stroke-linejoin="round"/>
<path d="M1271.9,844.6 L1276.8,844.6 L1274.1,849.6 Z" fill="#000" stroke="#000" stroke-width="2" stroke-linejoin="round"/>
</mask>
<path d="M1042.4,842.4 L1398.4,842.4 L1340.1,939.8 L1082.7,939.8 Z" fill="#fdfdfb" mask="url(#mmask)"/>
<path d="M1130,956 L1130,1167.5" fill="none" stroke="#fdfdfb" stroke-width="18" stroke-linecap="butt" stroke-linejoin="round" />
<path d="M1130.0,1160.0 C1130.7,1161.7 1129.0,1165.8 1134.0,1170.0 C1139.0,1174.2 1147.7,1180.2 1160.0,1185.0 C1172.3,1189.8 1194.7,1196.2 1208.0,1198.7 C1221.3,1201.2 1229.3,1201.1 1240.0,1200.0 C1250.7,1198.9 1261.5,1196.2 1272.0,1192.0 C1282.5,1187.8 1296.5,1178.7 1303.0,1174.7 C1309.5,1170.7 1309.3,1170.5 1311.0,1168.0 C1312.7,1165.5 1312.7,1161.3 1313.0,1160.0" fill="none" stroke="#fdfdfb" stroke-width="16" stroke-linecap="round" stroke-linejoin="round" />
<path d="M1320.7,956 L1312.7,1165" fill="none" stroke="#fdfdfb" stroke-width="17.5" stroke-linecap="butt" stroke-linejoin="round" />
<path d="M1136.0,970.0 C1140.0,972.4 1152.0,979.6 1160.0,984.4 C1168.0,989.2 1174.7,995.6 1184.0,998.8 C1193.3,1002.0 1204.3,1002.4 1216.0,1003.6 C1227.7,1004.8 1243.6,1007.1 1254.3,1006.0 C1265.0,1004.9 1272.3,1000.9 1280.0,997.0 C1287.7,993.1 1294.7,986.6 1300.7,982.8 C1306.7,979.0 1313.5,975.5 1316.0,974.0" fill="none" stroke="#fdfdfb" stroke-width="13.5" stroke-linecap="butt" stroke-linejoin="round" />
<path d="M1136.0,1030.0 C1140.0,1032.0 1150.7,1037.6 1160.0,1042.0 C1169.3,1046.4 1181.3,1052.8 1192.0,1056.3 C1202.7,1059.8 1213.3,1061.9 1224.0,1062.7 C1234.7,1063.5 1245.3,1062.6 1256.0,1061.0 C1266.7,1059.4 1278.3,1056.0 1288.0,1053.0 C1297.7,1050.0 1309.7,1044.7 1314.0,1043.0" fill="none" stroke="#fdfdfb" stroke-width="13.5" stroke-linecap="butt" stroke-linejoin="round" />
<path d="M1136.0,1102.0 C1140.0,1104.0 1150.7,1110.2 1160.0,1114.0 C1169.3,1117.8 1181.3,1122.3 1192.0,1125.0 C1202.7,1127.7 1213.3,1129.7 1224.0,1130.0 C1234.7,1130.3 1245.3,1128.6 1256.0,1126.7 C1266.7,1124.8 1278.7,1121.8 1288.0,1118.7 C1297.3,1115.6 1308.0,1109.8 1312.0,1108.0" fill="none" stroke="#fdfdfb" stroke-width="13.5" stroke-linecap="butt" stroke-linejoin="round" />
<path d="M1122,1080 L968,1080 L790.6,1250.5" fill="none" stroke="#fdfdfb" stroke-width="17" stroke-linecap="butt" stroke-linejoin="round" />
<path d="M1328,1070.6 L1497,1069.3 L1637,1245" fill="none" stroke="#fdfdfb" stroke-width="16" stroke-linecap="butt" stroke-linejoin="round" />
<path d="M787,1252 L1240,1247 L1631.8,1244.6 L1631.8,1517 L1240,1516 L776,1514 Z" fill="none" stroke="#fdfdfb" stroke-width="18" stroke-linecap="round" stroke-linejoin="round" />
<path d="M943.5,1473.5 L943.5,1411.0 L1004.5,1392.5 L1004.5,1473.5 Z" fill="none" stroke="#fdfdfb" stroke-width="15" stroke-linecap="round" stroke-linejoin="round" />
<path d="M1035.3,1472.5 L1035.3,1389.8 L1101.5,1375.0 L1101.5,1472.5 Z" fill="none" stroke="#fdfdfb" stroke-width="15" stroke-linecap="round" stroke-linejoin="round" />
<path d="M1134.0,1472.5 L1134.0,1375.0 L1201.5,1361.8 L1201.5,1472.5 Z" fill="none" stroke="#fdfdfb" stroke-width="15" stroke-linecap="round" stroke-linejoin="round" />
<path d="M1234.2,1472.5 L1234.2,1355.0 L1304.5,1335.0 L1304.5,1472.5 Z" fill="none" stroke="#fdfdfb" stroke-width="15" stroke-linecap="round" stroke-linejoin="round" />
<path d="M1337.3,1471.5 L1337.3,1340.5 L1444.5,1310.0 L1444.5,1471.5 Z" fill="none" stroke="#fdfdfb" stroke-width="15" stroke-linecap="round" stroke-linejoin="round" />
<filter id="fat" x="-30%" y="-10%" width="160%" height="120%"><feMorphology operator="dilate" radius="7.5 0.4"/></filter>
<text x="0" y="0" font-size="84" font-weight="bold" text-anchor="middle" filter="url(#fat)" transform="translate(853.5 1341) scale(0.40 1)">D</text>
<text x="0" y="0" font-size="84" font-weight="bold" text-anchor="middle" filter="url(#fat)" transform="translate(849 1410.5) scale(0.40 1)">C</text>
<text x="0" y="0" font-size="84" font-weight="bold" text-anchor="middle" filter="url(#fat)" transform="translate(849 1480) scale(0.40 1)">O</text>
<path d="M858.6,1520 L858.6,1768" fill="none" stroke="#fdfdfb" stroke-width="18.6" stroke-linecap="butt" stroke-linejoin="round" />
<path d="M1552,1522 L1552,1772" fill="none" stroke="#fdfdfb" stroke-width="18.8" stroke-linecap="butt" stroke-linejoin="round" />
<path d="M849.3,1762 L1561.4,1762" fill="none" stroke="#fdfdfb" stroke-width="18.8" stroke-linecap="butt" stroke-linejoin="round" />
<circle cx="987" cy="1637.5" r="82.3" fill="none" stroke="#fdfdfb" stroke-width="10.8"/>
<circle cx="987" cy="1637.5" r="63" fill="none" stroke="#fdfdfb" stroke-width="10.5"/>
<path d="M973.9,1588.7 C978.2,1588.1 978.6,1588.3 983.2,1589.9 C987.9,1591.5 989.6,1589.6 991.5,1594.6 C993.3,1599.6 988.7,1606.8 990.3,1608.7 C991.8,1610.5 991.7,1604.4 997.3,1601.6 C1002.9,1598.8 1003.9,1598.4 1011.4,1598.1 C1018.9,1597.8 1019.2,1597.0 1025.5,1600.4 C1031.7,1603.9 1032.0,1603.8 1034.8,1611.0 C1037.7,1618.2 1033.8,1619.6 1036.0,1627.4 C1038.2,1635.2 1040.9,1632.5 1043.1,1640.3 C1045.2,1648.1 1045.8,1649.2 1044.2,1656.7 C1042.7,1664.2 1042.8,1662.8 1037.2,1668.5 C1031.6,1674.1 1030.9,1674.4 1023.1,1677.8 C1015.3,1681.3 1015.4,1681.7 1007.9,1681.4 C1000.4,1681.0 999.7,1679.5 995.0,1676.7 C990.3,1673.9 992.8,1668.6 990.3,1670.8 C987.8,1673.0 989.3,1677.7 985.6,1684.9 C981.8,1692.1 979.3,1695.9 976.2,1697.8 C973.1,1699.7 973.6,1696.6 973.9,1691.9 C974.2,1687.2 983.6,1682.4 977.4,1680.2 C971.1,1678.0 958.5,1686.2 950.4,1683.7 C942.3,1681.2 946.9,1678.0 946.9,1670.8 C946.9,1663.6 947.9,1664.2 950.4,1656.7 C952.9,1649.2 956.9,1648.3 956.3,1642.7 C955.6,1637.0 951.8,1640.0 948.1,1635.6 C944.3,1631.2 942.8,1631.9 942.2,1626.2 C941.6,1620.6 941.7,1620.8 945.7,1614.5 C949.8,1608.3 951.8,1608.7 957.4,1602.8 C963.1,1596.8 962.5,1596.0 966.8,1592.2 C971.2,1588.5 969.5,1589.3 973.9,1588.7 Z M968.0,1611.0 C971.4,1608.5 972.5,1607.9 975.0,1609.8 C977.5,1611.7 977.7,1613.7 977.4,1618.0 C977.1,1622.4 977.0,1624.1 973.9,1626.2 C970.7,1628.4 968.8,1628.1 965.7,1626.2 C962.5,1624.4 961.5,1623.3 962.1,1619.2 C962.8,1615.1 964.6,1613.5 968.0,1611.0 Z M1009.0,1613.3 C1010.3,1611.0 1012.4,1611.2 1013.7,1613.3 C1015.1,1615.5 1015.5,1619.2 1014.2,1621.6 C1013.0,1623.9 1010.4,1624.2 1009.0,1622.0 C1007.7,1619.8 1007.8,1615.7 1009.0,1613.3 Z M997.3,1650.9 C999.8,1648.1 1004.5,1648.9 1011.4,1647.4 C1018.3,1645.8 1020.6,1642.5 1023.1,1645.0 C1025.6,1647.5 1024.8,1651.7 1020.8,1656.7 C1016.7,1661.7 1012.9,1663.5 1007.9,1663.8 C1002.9,1664.1 1004.8,1661.3 1002.0,1657.9 C999.2,1654.5 994.8,1653.7 997.3,1650.9 Z M970.3,1652.0 C972.8,1650.5 974.7,1649.5 975.0,1653.2 C975.4,1657.0 974.6,1660.5 971.5,1666.1 C968.4,1671.7 966.1,1673.7 963.3,1674.3 C960.5,1674.9 960.3,1672.5 961.0,1668.5 C961.6,1664.4 963.2,1663.5 965.7,1659.1 C968.2,1654.7 967.8,1653.6 970.3,1652.0 Z" fill="#fdfdfb" fill-rule="evenodd"/>
<circle cx="1199" cy="1637.5" r="82.3" fill="none" stroke="#fdfdfb" stroke-width="10.8"/>
<circle cx="1199" cy="1637.5" r="63" fill="none" stroke="#fdfdfb" stroke-width="10.5"/>
<path d="M1185.9,1588.7 C1190.2,1588.1 1190.6,1588.3 1195.2,1589.9 C1199.9,1591.5 1201.6,1589.6 1203.5,1594.6 C1205.3,1599.6 1200.7,1606.8 1202.3,1608.7 C1203.8,1610.5 1203.7,1604.4 1209.3,1601.6 C1214.9,1598.8 1215.9,1598.4 1223.4,1598.1 C1230.9,1597.8 1231.2,1597.0 1237.5,1600.4 C1243.7,1603.9 1244.0,1603.8 1246.8,1611.0 C1249.7,1618.2 1245.8,1619.6 1248.0,1627.4 C1250.2,1635.2 1252.9,1632.5 1255.1,1640.3 C1257.2,1648.1 1257.8,1649.2 1256.2,1656.7 C1254.7,1664.2 1254.8,1662.8 1249.2,1668.5 C1243.6,1674.1 1242.9,1674.4 1235.1,1677.8 C1227.3,1681.3 1227.4,1681.7 1219.9,1681.4 C1212.4,1681.0 1211.7,1679.5 1207.0,1676.7 C1202.3,1673.9 1204.8,1668.6 1202.3,1670.8 C1199.8,1673.0 1201.3,1677.7 1197.6,1684.9 C1193.8,1692.1 1191.3,1695.9 1188.2,1697.8 C1185.1,1699.7 1185.6,1696.6 1185.9,1691.9 C1186.2,1687.2 1195.6,1682.4 1189.4,1680.2 C1183.1,1678.0 1170.5,1686.2 1162.4,1683.7 C1154.3,1681.2 1158.9,1678.0 1158.9,1670.8 C1158.9,1663.6 1159.9,1664.2 1162.4,1656.7 C1164.9,1649.2 1168.9,1648.3 1168.3,1642.7 C1167.6,1637.0 1163.8,1640.0 1160.1,1635.6 C1156.3,1631.2 1154.8,1631.9 1154.2,1626.2 C1153.6,1620.6 1153.7,1620.8 1157.7,1614.5 C1161.8,1608.3 1163.8,1608.7 1169.4,1602.8 C1175.1,1596.8 1174.5,1596.0 1178.8,1592.2 C1183.2,1588.5 1181.5,1589.3 1185.9,1588.7 Z M1180.0,1611.0 C1183.4,1608.5 1184.5,1607.9 1187.0,1609.8 C1189.5,1611.7 1189.7,1613.7 1189.4,1618.0 C1189.1,1622.4 1189.0,1624.1 1185.9,1626.2 C1182.7,1628.4 1180.8,1628.1 1177.7,1626.2 C1174.5,1624.4 1173.5,1623.3 1174.1,1619.2 C1174.8,1615.1 1176.6,1613.5 1180.0,1611.0 Z M1221.0,1613.3 C1222.3,1611.0 1224.4,1611.2 1225.7,1613.3 C1227.1,1615.5 1227.5,1619.2 1226.2,1621.6 C1225.0,1623.9 1222.4,1624.2 1221.0,1622.0 C1219.7,1619.8 1219.8,1615.7 1221.0,1613.3 Z M1209.3,1650.9 C1211.8,1648.1 1216.5,1648.9 1223.4,1647.4 C1230.3,1645.8 1232.6,1642.5 1235.1,1645.0 C1237.6,1647.5 1236.8,1651.7 1232.8,1656.7 C1228.7,1661.7 1224.9,1663.5 1219.9,1663.8 C1214.9,1664.1 1216.8,1661.3 1214.0,1657.9 C1211.2,1654.5 1206.8,1653.7 1209.3,1650.9 Z M1182.3,1652.0 C1184.8,1650.5 1186.7,1649.5 1187.0,1653.2 C1187.4,1657.0 1186.6,1660.5 1183.5,1666.1 C1180.4,1671.7 1178.1,1673.7 1175.3,1674.3 C1172.5,1674.9 1172.3,1672.5 1173.0,1668.5 C1173.6,1664.4 1175.2,1663.5 1177.7,1659.1 C1180.2,1654.7 1179.8,1653.6 1182.3,1652.0 Z" fill="#fdfdfb" fill-rule="evenodd"/>
<circle cx="1414.2" cy="1637.5" r="82.3" fill="none" stroke="#fdfdfb" stroke-width="10.8"/>
<circle cx="1414.2" cy="1637.5" r="63" fill="none" stroke="#fdfdfb" stroke-width="10.5"/>
<path d="M1401.1,1588.7 C1405.4,1588.1 1405.8,1588.3 1410.4,1589.9 C1415.1,1591.5 1416.8,1589.6 1418.7,1594.6 C1420.5,1599.6 1415.9,1606.8 1417.5,1608.7 C1419.0,1610.5 1418.9,1604.4 1424.5,1601.6 C1430.1,1598.8 1431.1,1598.4 1438.6,1598.1 C1446.1,1597.8 1446.4,1597.0 1452.7,1600.4 C1458.9,1603.9 1459.2,1603.8 1462.0,1611.0 C1464.9,1618.2 1461.0,1619.6 1463.2,1627.4 C1465.4,1635.2 1468.1,1632.5 1470.3,1640.3 C1472.4,1648.1 1473.0,1649.2 1471.4,1656.7 C1469.9,1664.2 1470.0,1662.8 1464.4,1668.5 C1458.8,1674.1 1458.1,1674.4 1450.3,1677.8 C1442.5,1681.3 1442.6,1681.7 1435.1,1681.4 C1427.6,1681.0 1426.9,1679.5 1422.2,1676.7 C1417.5,1673.9 1420.0,1668.6 1417.5,1670.8 C1415.0,1673.0 1416.5,1677.7 1412.8,1684.9 C1409.0,1692.1 1406.5,1695.9 1403.4,1697.8 C1400.3,1699.7 1400.8,1696.6 1401.1,1691.9 C1401.4,1687.2 1410.8,1682.4 1404.6,1680.2 C1398.3,1678.0 1385.7,1686.2 1377.6,1683.7 C1369.5,1681.2 1374.1,1678.0 1374.1,1670.8 C1374.1,1663.6 1375.1,1664.2 1377.6,1656.7 C1380.1,1649.2 1384.1,1648.3 1383.5,1642.7 C1382.8,1637.0 1379.0,1640.0 1375.3,1635.6 C1371.5,1631.2 1370.0,1631.9 1369.4,1626.2 C1368.8,1620.6 1368.9,1620.8 1372.9,1614.5 C1377.0,1608.3 1379.0,1608.7 1384.6,1602.8 C1390.3,1596.8 1389.7,1596.0 1394.0,1592.2 C1398.4,1588.5 1396.7,1589.3 1401.1,1588.7 Z M1395.2,1611.0 C1398.6,1608.5 1399.7,1607.9 1402.2,1609.8 C1404.7,1611.7 1404.9,1613.7 1404.6,1618.0 C1404.3,1622.4 1404.2,1624.1 1401.1,1626.2 C1397.9,1628.4 1396.0,1628.1 1392.9,1626.2 C1389.7,1624.4 1388.7,1623.3 1389.3,1619.2 C1390.0,1615.1 1391.8,1613.5 1395.2,1611.0 Z M1436.2,1613.3 C1437.5,1611.0 1439.6,1611.2 1440.9,1613.3 C1442.3,1615.5 1442.7,1619.2 1441.4,1621.6 C1440.2,1623.9 1437.6,1624.2 1436.2,1622.0 C1434.9,1619.8 1435.0,1615.7 1436.2,1613.3 Z M1424.5,1650.9 C1427.0,1648.1 1431.7,1648.9 1438.6,1647.4 C1445.5,1645.8 1447.8,1642.5 1450.3,1645.0 C1452.8,1647.5 1452.0,1651.7 1448.0,1656.7 C1443.9,1661.7 1440.1,1663.5 1435.1,1663.8 C1430.1,1664.1 1432.0,1661.3 1429.2,1657.9 C1426.4,1654.5 1422.0,1653.7 1424.5,1650.9 Z M1397.5,1652.0 C1400.0,1650.5 1401.9,1649.5 1402.2,1653.2 C1402.6,1657.0 1401.8,1660.5 1398.7,1666.1 C1395.6,1671.7 1393.3,1673.7 1390.5,1674.3 C1387.7,1674.9 1387.5,1672.5 1388.2,1668.5 C1388.8,1664.4 1390.4,1663.5 1392.9,1659.1 C1395.4,1654.7 1395.0,1653.6 1397.5,1652.0 Z" fill="#fdfdfb" fill-rule="evenodd"/>
<path d="M893,1771 L893,2089" fill="none" stroke="#fdfdfb" stroke-width="18" stroke-linecap="butt" stroke-linejoin="round" />
<path d="M1508,1771 L1508,2089" fill="none" stroke="#fdfdfb" stroke-width="18.5" stroke-linecap="butt" stroke-linejoin="round" />
<path d="M884,1989.5 L1517,1990" fill="none" stroke="#fdfdfb" stroke-width="19.3" stroke-linecap="butt" stroke-linejoin="round" />
<path d="M884,2080 L1517,2080" fill="none" stroke="#fdfdfb" stroke-width="18" stroke-linecap="butt" stroke-linejoin="round" />
<path d="M946.4,1999.0 C948.3,2002.0 955.3,2011.0 957.9,2017.2 C960.5,2023.4 961.6,2030.0 961.7,2036.4 C961.9,2042.8 960.4,2049.8 958.8,2055.5 C957.2,2061.2 953.1,2068.3 952.0,2070.9" fill="none" stroke="#fdfdfb" stroke-width="11.5" stroke-linecap="butt" stroke-linejoin="round" />
<path d="M1019.3,1999.0 C1021.8,2002.0 1031.4,2010.7 1034.6,2017.2 C1037.8,2023.8 1038.8,2031.6 1038.5,2038.3 C1038.2,2045.0 1034.3,2052.1 1032.7,2057.5 C1031.1,2062.9 1029.5,2068.7 1028.9,2070.9" fill="none" stroke="#fdfdfb" stroke-width="11.5" stroke-linecap="butt" stroke-linejoin="round" />
<path d="M1090.3,1999.0 C1092.2,2001.7 1099.4,2009.0 1101.8,2015.2 C1104.2,2021.4 1104.7,2029.4 1104.7,2036.4 C1104.7,2043.5 1102.9,2051.8 1101.8,2057.5 C1100.7,2063.2 1098.6,2068.7 1098.0,2070.9" fill="none" stroke="#fdfdfb" stroke-width="11.5" stroke-linecap="butt" stroke-linejoin="round" />
<path d="M1147.8,1999.0 C1151.0,2002.3 1162.5,2012.1 1167.0,2019.0 C1171.5,2025.9 1174.0,2033.8 1174.7,2040.2 C1175.4,2046.6 1172.2,2052.4 1170.9,2057.5 C1169.6,2062.6 1167.7,2068.7 1167.0,2070.9" fill="none" stroke="#fdfdfb" stroke-width="11.5" stroke-linecap="butt" stroke-linejoin="round" />
<path d="M1225.0,1999.9 C1227.2,2002.8 1235.7,2011.5 1238.4,2017.2 C1241.1,2023.0 1241.3,2028.0 1241.3,2034.4 C1241.3,2040.8 1239.2,2049.4 1238.4,2055.5 C1237.6,2061.6 1236.8,2068.3 1236.5,2070.9" fill="none" stroke="#fdfdfb" stroke-width="11.5" stroke-linecap="butt" stroke-linejoin="round" />
<path d="M1301.7,1999.9 C1303.6,2002.8 1310.7,2011.1 1313.2,2017.2 C1315.8,2023.3 1317.0,2029.7 1317.0,2036.4 C1317.0,2043.1 1314.5,2051.8 1313.2,2057.5 C1311.9,2063.2 1310.0,2068.7 1309.4,2070.9" fill="none" stroke="#fdfdfb" stroke-width="11.5" stroke-linecap="butt" stroke-linejoin="round" />
<path d="M1370.8,1999.9 C1372.7,2002.8 1379.8,2011.1 1382.3,2017.2 C1384.8,2023.3 1385.8,2029.7 1386.1,2036.4 C1386.4,2043.1 1384.8,2051.8 1384.2,2057.5 C1383.6,2063.2 1382.6,2068.7 1382.3,2070.9" fill="none" stroke="#fdfdfb" stroke-width="11.5" stroke-linecap="butt" stroke-linejoin="round" />
<path d="M1447.5,1999.9 C1449.4,2002.8 1456.3,2010.8 1459.0,2017.2 C1461.7,2023.6 1463.7,2031.3 1463.9,2038.3 C1464.1,2045.3 1461.8,2054.0 1460.0,2059.4 C1458.2,2064.8 1454.4,2069.0 1453.3,2070.9" fill="none" stroke="#fdfdfb" stroke-width="11.5" stroke-linecap="butt" stroke-linejoin="round" />
<path d="M1016.4,2087 L1099.9,2234 L1104,2237 L1107.5,2234 L1136.3,2087" fill="none" stroke="#fdfdfb" stroke-width="14.5" stroke-linecap="round" stroke-linejoin="round" />
<path d="M1265.2,2087 L1297.9,2234 L1301.7,2237 L1306,2232 L1365,2176.4 L1403.4,2087" fill="none" stroke="#fdfdfb" stroke-width="15" stroke-linecap="round" stroke-linejoin="round" />
<path d="M1125,2181.7 L1282,2178.5" fill="none" stroke="#fdfdfb" stroke-width="16" stroke-linecap="butt" stroke-linejoin="round" />
<path d="M1118,2209.5 L1288,2209.5" fill="none" stroke="#fdfdfb" stroke-width="18" stroke-linecap="butt" stroke-linejoin="round" />
<path d="M1066.0,2189.0 C1062.8,2189.4 1060.8,2189.6 1047.0,2191.3 C1033.2,2193.0 1002.5,2196.2 983.0,2199.3 C963.5,2202.4 947.7,2205.1 930.0,2210.0 C912.3,2214.9 892.2,2221.9 876.6,2228.6 C861.0,2235.3 849.0,2242.9 836.6,2250.0 C824.2,2257.1 815.3,2262.9 802.0,2271.3 C788.7,2279.7 769.5,2292.2 756.6,2300.6 C743.7,2309.0 729.9,2318.4 724.6,2322.0" fill="none" stroke="#fdfdfb" stroke-width="14.6" stroke-linecap="round" stroke-linejoin="round" />
<path d="M1366.6,2180.7 C1375.5,2183.8 1402.3,2192.7 1420.0,2199.3 C1437.7,2206.0 1455.2,2213.1 1473.0,2220.6 C1490.8,2228.1 1510.9,2237.0 1526.5,2244.6 C1542.1,2252.2 1555.0,2258.4 1566.5,2266.0 C1578.0,2273.6 1585.6,2281.6 1595.8,2290.0 C1606.0,2298.4 1622.5,2312.2 1627.8,2316.6" fill="none" stroke="#fdfdfb" stroke-width="14.6" stroke-linecap="round" stroke-linejoin="round" />
<path d="M822,2270.6 L1572,2271.3" fill="none" stroke="#fdfdfb" stroke-width="17.5" stroke-linecap="butt" stroke-linejoin="round" />
<path d="M719,2327.3 L1633,2327.8" fill="none" stroke="#fdfdfb" stroke-width="18.6" stroke-linecap="butt" stroke-linejoin="round" />
<path d="M724.6,2322 L724.6,2433 M1626.4,2316 L1626.4,2433" fill="none" stroke="#fdfdfb" stroke-width="18.7" stroke-linecap="butt" stroke-linejoin="round" />
<path d="M724,2358 L1615,2359" fill="none" stroke="#fdfdfb" stroke-width="18" stroke-linecap="butt" stroke-linejoin="round" />
<path d="M715.3,2424.5 L1635.8,2423.5" fill="none" stroke="#fdfdfb" stroke-width="18.5" stroke-linecap="butt" stroke-linejoin="round" />
<rect x="733" y="2364" width="885" height="54" fill="#fdfdfb" fill-opacity="0.88"/>
<path d="M748.3,2381.2 L738.0,2409.3" stroke="#0a44a4" stroke-opacity="0.65" stroke-width="5.2" fill="none"/>
<path d="M758.0,2378.3 L748.3,2406.7" stroke="#0a44a4" stroke-opacity="0.41" stroke-width="3.6" fill="none"/>
<path d="M768.6,2378.9 L755.1,2412.7" stroke="#0a44a4" stroke-opacity="0.94" stroke-width="3.0" fill="none"/>
<path d="M776.9,2373.6 L765.9,2412.9" stroke="#0a44a4" stroke-opacity="0.67" stroke-width="6.4" fill="none"/>
<path d="M779.8,2372.3 L773.7,2409.3" stroke="#0a44a4" stroke-opacity="0.61" stroke-width="3.6" fill="none"/>
<path d="M795.6,2377.0 L784.2,2407.7" stroke="#0a44a4" stroke-opacity="0.62" stroke-width="5.6" fill="none"/>
<path d="M808.7,2380.4 L792.8,2407.3" stroke="#0a44a4" stroke-opacity="0.54" stroke-width="8.5" fill="none"/>
<path d="M807.8,2379.7 L803.9,2409.8" stroke="#0a44a4" stroke-opacity="0.86" stroke-width="4.2" fill="none"/>
<path d="M825.8,2372.0 L811.8,2411.3" stroke="#0a44a4" stroke-opacity="0.90" stroke-width="8.2" fill="none"/>
<path d="M832.5,2372.7 L824.4,2408.0" stroke="#0a44a4" stroke-opacity="0.82" stroke-width="8.4" fill="none"/>
<path d="M843.0,2381.6 L835.6,2406.9" stroke="#0a44a4" stroke-opacity="0.42" stroke-width="3.0" fill="none"/>
<path d="M845.2,2380.0 L841.4,2411.6" stroke="#0a44a4" stroke-opacity="0.69" stroke-width="3.1" fill="none"/>
<path d="M861.1,2373.3 L848.6,2407.9" stroke="#0a44a4" stroke-opacity="0.42" stroke-width="3.6" fill="none"/>
<path d="M862.7,2381.7 L856.2,2406.6" stroke="#0a44a4" stroke-opacity="0.53" stroke-width="3.8" fill="none"/>
<path d="M875.3,2380.5 L867.2,2407.9" stroke="#0a44a4" stroke-opacity="0.41" stroke-width="3.8" fill="none"/>
<path d="M885.2,2379.7 L878.9,2410.4" stroke="#0a44a4" stroke-opacity="0.53" stroke-width="3.8" fill="none"/>
<path d="M894.7,2374.4 L884.2,2408.2" stroke="#0a44a4" stroke-opacity="0.57" stroke-width="3.0" fill="none"/>
<path d="M900.7,2377.7 L891.4,2406.1" stroke="#0a44a4" stroke-opacity="0.46" stroke-width="8.3" fill="none"/>
<path d="M915.3,2374.5 L901.7,2411.5" stroke="#0a44a4" stroke-opacity="0.79" stroke-width="8.0" fill="none"/>
<path d="M932.6,2380.8 L917.2,2408.2" stroke="#0a44a4" stroke-opacity="0.60" stroke-width="3.7" fill="none"/>
<path d="M938.2,2374.4 L922.7,2407.4" stroke="#0a44a4" stroke-opacity="0.50" stroke-width="2.7" fill="none"/>
<path d="M939.0,2373.8 L932.2,2407.2" stroke="#0a44a4" stroke-opacity="0.39" stroke-width="6.1" fill="none"/>
<path d="M954.9,2378.1 L940.8,2410.8" stroke="#0a44a4" stroke-opacity="0.90" stroke-width="5.9" fill="none"/>
<path d="M955.6,2376.5 L949.1,2412.5" stroke="#0a44a4" stroke-opacity="0.46" stroke-width="2.6" fill="none"/>
<path d="M960.0,2375.6 L955.3,2405.9" stroke="#0a44a4" stroke-opacity="0.94" stroke-width="5.9" fill="none"/>
<path d="M977.4,2373.4 L966.8,2412.7" stroke="#0a44a4" stroke-opacity="0.36" stroke-width="6.6" fill="none"/>
<path d="M996.4,2372.2 L980.8,2407.9" stroke="#0a44a4" stroke-opacity="0.64" stroke-width="6.7" fill="none"/>
<path d="M1009.7,2372.8 L993.7,2408.6" stroke="#0a44a4" stroke-opacity="0.79" stroke-width="4.4" fill="none"/>
<path d="M1017.5,2379.9 L1005.4,2405.7" stroke="#0a44a4" stroke-opacity="0.56" stroke-width="6.9" fill="none"/>
<path d="M1032.4,2376.2 L1018.1,2406.7" stroke="#0a44a4" stroke-opacity="0.87" stroke-width="7.9" fill="none"/>
<path d="M1039.0,2377.8 L1031.0,2408.1" stroke="#0a44a4" stroke-opacity="0.40" stroke-width="6.2" fill="none"/>
<path d="M1057.2,2379.3 L1042.7,2409.9" stroke="#0a44a4" stroke-opacity="0.79" stroke-width="8.5" fill="none"/>
<path d="M1070.2,2372.8 L1056.3,2407.0" stroke="#0a44a4" stroke-opacity="0.37" stroke-width="5.1" fill="none"/>
<path d="M1072.6,2379.0 L1066.6,2409.0" stroke="#0a44a4" stroke-opacity="0.72" stroke-width="5.4" fill="none"/>
<path d="M1082.6,2375.0 L1079.4,2407.6" stroke="#0a44a4" stroke-opacity="0.47" stroke-width="4.0" fill="none"/>
<path d="M1097.2,2376.4 L1085.7,2405.9" stroke="#0a44a4" stroke-opacity="0.55" stroke-width="7.9" fill="none"/>
<path d="M1107.9,2380.1 L1099.3,2405.7" stroke="#0a44a4" stroke-opacity="0.88" stroke-width="3.7" fill="none"/>
<path d="M1113.8,2373.4 L1106.6,2409.0" stroke="#0a44a4" stroke-opacity="0.85" stroke-width="6.0" fill="none"/>
<path d="M1134.9,2374.8 L1119.6,2411.6" stroke="#0a44a4" stroke-opacity="0.62" stroke-width="6.8" fill="none"/>
<path d="M1137.7,2378.3 L1129.3,2409.0" stroke="#0a44a4" stroke-opacity="0.54" stroke-width="3.8" fill="none"/>
<path d="M1148.8,2372.7 L1139.9,2412.7" stroke="#0a44a4" stroke-opacity="0.87" stroke-width="8.4" fill="none"/>
<path d="M1160.0,2375.1 L1149.6,2406.7" stroke="#0a44a4" stroke-opacity="0.36" stroke-width="6.8" fill="none"/>
<path d="M1161.6,2380.3 L1158.3,2411.1" stroke="#0a44a4" stroke-opacity="0.43" stroke-width="5.2" fill="none"/>
<path d="M1173.7,2378.3 L1164.9,2407.8" stroke="#0a44a4" stroke-opacity="0.83" stroke-width="6.3" fill="none"/>
<path d="M1184.5,2376.8 L1178.9,2411.6" stroke="#0a44a4" stroke-opacity="0.36" stroke-width="6.6" fill="none"/>
<path d="M1195.1,2374.7 L1189.8,2410.2" stroke="#0a44a4" stroke-opacity="0.77" stroke-width="6.8" fill="none"/>
<path d="M1214.0,2375.9 L1201.2,2406.7" stroke="#0a44a4" stroke-opacity="0.89" stroke-width="6.2" fill="none"/>
<path d="M1221.4,2373.3 L1209.0,2409.4" stroke="#0a44a4" stroke-opacity="0.73" stroke-width="8.1" fill="none"/>
<path d="M1234.9,2380.8 L1224.5,2406.6" stroke="#0a44a4" stroke-opacity="0.92" stroke-width="4.8" fill="none"/>
<path d="M1239.1,2379.2 L1233.5,2406.5" stroke="#0a44a4" stroke-opacity="0.73" stroke-width="6.4" fill="none"/>
<path d="M1260.6,2381.8 L1245.9,2405.2" stroke="#0a44a4" stroke-opacity="0.67" stroke-width="3.8" fill="none"/>
<path d="M1271.1,2380.6 L1256.2,2410.2" stroke="#0a44a4" stroke-opacity="0.40" stroke-width="4.4" fill="none"/>
<path d="M1277.7,2376.9 L1264.7,2412.8" stroke="#0a44a4" stroke-opacity="0.84" stroke-width="5.8" fill="none"/>
<path d="M1277.2,2375.4 L1272.0,2406.7" stroke="#0a44a4" stroke-opacity="0.43" stroke-width="7.3" fill="none"/>
<path d="M1293.7,2380.4 L1281.3,2407.5" stroke="#0a44a4" stroke-opacity="0.92" stroke-width="5.6" fill="none"/>
<path d="M1295.5,2374.2 L1291.4,2408.8" stroke="#0a44a4" stroke-opacity="0.52" stroke-width="8.2" fill="none"/>
<path d="M1315.5,2380.4 L1305.7,2408.5" stroke="#0a44a4" stroke-opacity="0.54" stroke-width="6.3" fill="none"/>
<path d="M1330.4,2374.1 L1315.7,2406.2" stroke="#0a44a4" stroke-opacity="0.93" stroke-width="7.6" fill="none"/>
<path d="M1333.5,2377.4 L1327.9,2409.0" stroke="#0a44a4" stroke-opacity="0.71" stroke-width="5.9" fill="none"/>
<path d="M1344.7,2376.0 L1335.0,2406.6" stroke="#0a44a4" stroke-opacity="0.69" stroke-width="8.3" fill="none"/>
<path d="M1351.6,2377.4 L1347.8,2409.7" stroke="#0a44a4" stroke-opacity="0.92" stroke-width="6.6" fill="none"/>
<path d="M1371.1,2373.3 L1361.9,2409.5" stroke="#0a44a4" stroke-opacity="0.84" stroke-width="4.1" fill="none"/>
<path d="M1380.4,2373.9 L1373.3,2408.1" stroke="#0a44a4" stroke-opacity="0.91" stroke-width="5.4" fill="none"/>
<path d="M1383.9,2373.9 L1380.6,2411.2" stroke="#0a44a4" stroke-opacity="0.76" stroke-width="7.2" fill="none"/>
<path d="M1402.1,2373.0 L1391.0,2407.2" stroke="#0a44a4" stroke-opacity="0.42" stroke-width="4.6" fill="none"/>
<path d="M1405.8,2377.3 L1400.2,2409.5" stroke="#0a44a4" stroke-opacity="0.58" stroke-width="4.0" fill="none"/>
<path d="M1413.2,2374.0 L1408.1,2407.9" stroke="#0a44a4" stroke-opacity="0.73" stroke-width="5.7" fill="none"/>
<path d="M1429.5,2380.6 L1418.5,2411.1" stroke="#0a44a4" stroke-opacity="0.79" stroke-width="7.6" fill="none"/>
<path d="M1439.9,2375.1 L1432.8,2405.6" stroke="#0a44a4" stroke-opacity="0.48" stroke-width="7.9" fill="none"/>
<path d="M1453.4,2374.4 L1448.7,2407.2" stroke="#0a44a4" stroke-opacity="0.51" stroke-width="7.8" fill="none"/>
<path d="M1466.7,2379.9 L1458.2,2412.0" stroke="#0a44a4" stroke-opacity="0.59" stroke-width="7.5" fill="none"/>
<path d="M1477.1,2378.8 L1471.5,2405.7" stroke="#0a44a4" stroke-opacity="0.93" stroke-width="2.6" fill="none"/>
<path d="M1488.8,2377.0 L1475.9,2407.5" stroke="#0a44a4" stroke-opacity="0.46" stroke-width="5.5" fill="none"/>
<path d="M1486.4,2377.5 L1482.9,2408.9" stroke="#0a44a4" stroke-opacity="0.69" stroke-width="3.1" fill="none"/>
<path d="M1493.7,2380.4 L1488.1,2405.1" stroke="#0a44a4" stroke-opacity="0.91" stroke-width="3.6" fill="none"/>
<path d="M1508.7,2376.6 L1493.4,2406.9" stroke="#0a44a4" stroke-opacity="0.55" stroke-width="2.9" fill="none"/>
<path d="M1509.1,2378.0 L1500.5,2412.9" stroke="#0a44a4" stroke-opacity="0.77" stroke-width="5.6" fill="none"/>
<path d="M1521.9,2379.4 L1513.0,2409.8" stroke="#0a44a4" stroke-opacity="0.47" stroke-width="3.6" fill="none"/>
<path d="M1521.9,2380.9 L1518.7,2406.6" stroke="#0a44a4" stroke-opacity="0.77" stroke-width="5.6" fill="none"/>
<path d="M1539.6,2378.0 L1531.3,2409.0" stroke="#0a44a4" stroke-opacity="0.94" stroke-width="6.3" fill="none"/>
<path d="M1559.1,2379.4 L1544.3,2406.8" stroke="#0a44a4" stroke-opacity="0.84" stroke-width="4.0" fill="none"/>
<path d="M1566.6,2378.9 L1552.1,2406.9" stroke="#0a44a4" stroke-opacity="0.81" stroke-width="7.9" fill="none"/>
<path d="M1567.8,2375.4 L1563.9,2409.2" stroke="#0a44a4" stroke-opacity="0.36" stroke-width="6.8" fill="none"/>
<path d="M1585.3,2374.3 L1574.2,2405.4" stroke="#0a44a4" stroke-opacity="0.75" stroke-width="6.3" fill="none"/>
<path d="M1594.3,2377.3 L1583.9,2409.9" stroke="#0a44a4" stroke-opacity="0.95" stroke-width="6.5" fill="none"/>
<path d="M1608.7,2381.8 L1595.8,2412.8" stroke="#0a44a4" stroke-opacity="0.72" stroke-width="6.7" fill="none"/>
<path d="M1616.9,2372.5 L1608.7,2411.4" stroke="#0a44a4" stroke-opacity="0.58" stroke-width="4.0" fill="none"/>
<path d="M1588.8,1167.0 C1594.7,1166.3 1610.8,1166.8 1623.9,1162.6 C1637.1,1158.4 1653.1,1149.8 1667.7,1142.0 C1682.3,1134.2 1697.0,1125.5 1711.6,1115.8 C1726.2,1106.1 1740.8,1095.3 1755.4,1083.6 C1770.0,1071.9 1787.1,1057.8 1799.3,1045.6 C1811.5,1033.4 1818.8,1024.2 1828.5,1010.5 C1838.2,996.9 1849.5,978.3 1857.8,963.7 C1866.1,949.1 1872.1,936.4 1878.2,922.8 C1884.3,909.2 1889.9,893.6 1894.3,881.9 C1898.7,870.2 1901.6,860.6 1904.6,852.6 C1907.5,844.6 1910.8,837.1 1912.0,834.0" fill="none" stroke="#fdfdfb" stroke-width="11.7" stroke-linecap="round" stroke-linejoin="round" />
<path d="M1641.4,1338.0 C1648.2,1333.6 1668.2,1321.0 1682.3,1311.7 C1696.4,1302.5 1711.6,1293.7 1726.2,1282.5 C1740.8,1271.3 1757.8,1255.6 1770.0,1244.4 C1782.2,1233.2 1789.5,1226.9 1799.3,1215.2 C1809.0,1203.5 1818.8,1186.0 1828.5,1174.3 C1838.2,1162.6 1846.6,1156.2 1857.8,1145.0 C1869.0,1133.8 1884.6,1120.6 1895.8,1107.0 C1907.0,1093.4 1916.2,1077.8 1925.0,1063.2 C1933.8,1048.6 1941.6,1033.9 1948.4,1019.3 C1955.2,1004.7 1960.6,989.0 1966.0,975.4 C1971.4,961.8 1975.7,950.1 1980.6,937.4 C1985.5,924.7 1991.5,909.3 1995.2,899.4 C1998.9,889.5 2001.7,881.6 2003.0,878.0" fill="none" stroke="#fdfdfb" stroke-width="11.7" stroke-linecap="round" stroke-linejoin="round" />
<path d="M1876.8,808.5 C1879.2,804.8 1884.8,793.6 1891.3,786.1 C1897.9,778.7 1906.3,769.3 1916.0,763.7 C1925.7,758.1 1938.0,754.8 1949.6,752.5 C1961.1,750.3 1974.6,749.6 1985.4,750.3 C1996.2,751.0 2005.9,752.9 2014.5,757.0 C2023.1,761.1 2030.5,767.8 2036.9,774.9 C2043.2,782.0 2048.1,791.0 2052.5,799.6 C2057.0,808.1 2060.9,817.1 2063.7,826.4 C2066.5,835.7 2069.1,845.8 2069.3,855.5 C2069.5,865.2 2067.6,876.0 2064.8,884.6 C2062.1,893.2 2058.3,902.0 2052.5,907.0 C2046.8,912.0 2038.0,913.0 2030.1,914.8 C2022.3,916.7 2009.6,917.6 2005.5,918.2" fill="none" stroke="#fdfdfb" stroke-width="11" stroke-linecap="round" stroke-linejoin="round" />
<path d="M1876.8,808.5 C1880.7,806.6 1891.9,800.1 1900.3,797.3 C1908.7,794.5 1918.2,792.6 1927.2,791.7 C1936.1,790.8 1945.1,790.6 1954.0,791.7 C1963.0,792.8 1972.3,794.9 1980.9,798.4 C1989.5,802.0 1998.1,806.8 2005.5,813.0 C2013.0,819.1 2020.1,827.5 2025.7,835.4 C2031.3,843.2 2035.4,851.8 2039.1,860.0 C2042.8,868.2 2046.2,877.0 2048.1,884.6 C2049.9,892.3 2049.9,902.3 2050.3,905.9" fill="none" stroke="#fdfdfb" stroke-width="11" stroke-linecap="round" stroke-linejoin="round" />
<path d="M1876.8,808.5 C1876.7,811.9 1875.2,822.7 1876.1,828.7 C1877.1,834.6 1880.0,840.2 1882.4,844.3 C1884.7,848.4 1888.9,851.8 1890.2,853.3" fill="none" stroke="#fdfdfb" stroke-width="11" stroke-linecap="round" stroke-linejoin="round" />
<path d="M1890.2,853.3 C1891.5,850.5 1893.4,840.6 1898.1,836.5 C1902.7,832.4 1909.6,830.5 1918.2,828.7 C1926.8,826.8 1940.6,824.7 1949.6,825.3 C1958.5,825.9 1964.8,828.5 1971.9,832.0 C1979.0,835.6 1986.1,840.4 1992.1,846.6 C1998.1,852.7 2003.1,861.9 2007.8,869.0 C2012.4,876.0 2018.6,883.1 2020.1,889.1 C2021.6,895.1 2019.1,899.9 2016.7,904.8 C2014.3,909.6 2007.4,916.0 2005.5,918.2" fill="none" stroke="#fdfdfb" stroke-width="11" stroke-linecap="round" stroke-linejoin="round" />
<path d="M1947.3,792.8 L1938.4,826.4 M2003.3,813.0 L1992.1,844.3 M2050.3,904.8 L2017.8,902.5" fill="none" stroke="#fdfdfb" stroke-width="11" stroke-linecap="round" stroke-linejoin="round" />
<path d="M1972.0,749.4 L1994.4,685.6 A10.7,10.7 0 0 0 1974.1,678.5 L1951.7,742.3 A10.7,10.7 0 0 0 1972.0,749.4 Z" fill="none" stroke="#fdfdfb" stroke-width="11" stroke-linecap="round" stroke-linejoin="round" />
<path d="M2002.0,661.0 L2019.6,598.6 A5.4,5.4 0 0 0 2009.4,595.3 L1986.7,656.0 A8.1,8.1 0 0 0 2002.0,661.0 Z" fill="none" stroke="#fdfdfb" stroke-width="11" stroke-linecap="round" stroke-linejoin="round" />
<ellipse cx="1980.9" cy="671.9" rx="17.5" ry="8.5" transform="rotate(15 1980.9 671.9)" fill="none" stroke="#fdfdfb" stroke-width="11"/>
<path d="M2041.3,757.3 L2082.7,659.9 A12.1,12.1 0 0 0 2060.4,650.4 L2019.0,747.8 A12.1,12.1 0 0 0 2041.3,757.3 Z" fill="none" stroke="#fdfdfb" stroke-width="11" stroke-linecap="round" stroke-linejoin="round" />
<path d="M2088.8,635.1 L2110.5,574.5 A5.8,5.8 0 0 0 2099.8,570.1 L2072.2,628.2 A9.0,9.0 0 0 0 2088.8,635.1 Z" fill="none" stroke="#fdfdfb" stroke-width="11" stroke-linecap="round" stroke-linejoin="round" />
<ellipse cx="2074.9" cy="643.3" rx="18.8" ry="9.0" transform="rotate(20 2074.9 643.3)" fill="none" stroke="#fdfdfb" stroke-width="11"/>
<path d="M2075.1,792.5 L2136.7,692.8 A12.1,12.1 0 0 0 2116.1,680.1 L2054.6,779.8 A12.1,12.1 0 0 0 2075.1,792.5 Z" fill="none" stroke="#fdfdfb" stroke-width="11" stroke-linecap="round" stroke-linejoin="round" />
<path d="M2149.8,659.8 L2178.3,590.2 A5.4,5.4 0 0 0 2168.5,585.7 L2134.4,652.7 A8.5,8.5 0 0 0 2149.8,659.8 Z" fill="none" stroke="#fdfdfb" stroke-width="11" stroke-linecap="round" stroke-linejoin="round" />
<ellipse cx="2134.3" cy="671.9" rx="18.8" ry="9.0" transform="rotate(28 2134.3 671.9)" fill="none" stroke="#fdfdfb" stroke-width="11"/>
<path d="M2084.6,831.7 L2177.6,763.4 A10.7,10.7 0 0 0 2164.8,746.1 L2071.9,814.4 A10.7,10.7 0 0 0 2084.6,831.7 Z" fill="none" stroke="#fdfdfb" stroke-width="11" stroke-linecap="round" stroke-linejoin="round" />
<path d="M2196.3,732.5 L2249.0,673.8 A5.4,5.4 0 0 0 2241.1,666.5 L2186.4,723.3 A6.7,6.7 0 0 0 2196.3,732.5 Z" fill="none" stroke="#fdfdfb" stroke-width="11" stroke-linecap="round" stroke-linejoin="round" />
<ellipse cx="2177.9" cy="745.8" rx="10.1" ry="11.6" transform="rotate(40 2177.9 745.8)" fill="none" stroke="#fdfdfb" stroke-width="11"/>
<path d="M780.0,1308.0 C778.8,1308.2 781.1,1308.0 773.0,1309.4 C764.9,1310.8 744.1,1312.9 731.4,1316.4 C718.7,1319.9 708.2,1324.1 696.6,1330.3 C685.0,1336.5 673.5,1345.8 661.9,1353.5 C650.3,1361.2 637.4,1368.6 627.0,1376.7 C616.6,1384.8 608.2,1393.7 599.3,1402.2 C590.4,1410.7 581.1,1419.6 573.8,1427.7 C566.4,1435.8 561.0,1442.4 555.2,1450.9 C549.4,1459.4 544.4,1469.1 539.0,1478.7 C533.6,1488.3 527.7,1499.9 522.7,1508.8 C517.7,1517.7 513.4,1525.4 508.8,1532.0 C504.2,1538.6 500.4,1542.8 495.0,1548.2 C489.6,1553.6 482.2,1558.3 476.4,1564.5 C470.6,1570.7 462.7,1581.8 460.0,1585.3" fill="none" stroke="#fdfdfb" stroke-width="14" stroke-linecap="round" stroke-linejoin="round" />
<path d="M778.0,1457.0 C776.8,1457.1 776.6,1456.9 770.8,1457.8 C765.0,1458.7 752.3,1459.7 743.0,1462.4 C733.7,1465.1 723.7,1469.0 715.2,1474.0 C706.7,1479.0 699.7,1486.0 692.0,1492.6 C684.3,1499.2 676.5,1506.5 668.8,1513.4 C661.1,1520.4 653.3,1527.7 645.6,1534.3 C637.9,1540.9 628.2,1545.6 622.4,1552.9 C616.6,1560.2 614.6,1570.3 610.8,1578.4 C606.9,1586.5 604.3,1593.1 599.3,1601.6 C594.3,1610.1 587.3,1620.9 580.7,1629.4 C574.1,1637.9 567.5,1645.3 559.8,1652.6 C552.1,1659.9 542.0,1667.2 534.3,1673.4 C526.6,1679.6 515.0,1686.6 513.5,1689.7 C511.9,1692.8 523.1,1691.6 525.0,1692.0" fill="none" stroke="#fdfdfb" stroke-width="14" stroke-linecap="round" stroke-linejoin="round" />
<path d="M356.0,1636.3 C357.3,1631.4 358.8,1615.7 363.9,1607.2 C368.9,1598.6 377.3,1590.7 386.3,1584.8 C395.2,1578.8 408.3,1573.0 417.6,1571.3 C426.9,1569.7 435.1,1572.5 442.2,1574.7 C449.3,1576.9 457.2,1583.1 460.1,1584.8" fill="none" stroke="#fdfdfb" stroke-width="14.5" stroke-linecap="round" stroke-linejoin="round" />
<path d="M356.0,1636.3 C355.9,1641.1 353.6,1656.0 354.9,1665.4 C356.2,1674.7 359.8,1683.7 363.9,1692.2 C368.0,1700.8 373.2,1709.8 379.6,1716.9 C385.9,1724.0 393.4,1730.5 401.9,1734.8 C410.5,1739.1 420.6,1741.9 431.0,1742.6 C441.5,1743.4 453.4,1740.9 464.6,1739.3 C475.8,1737.6 488.9,1736.6 498.2,1732.5 C507.5,1728.4 516.1,1721.0 520.6,1714.6 C525.1,1708.3 524.3,1697.8 525.1,1694.5" fill="none" stroke="#fdfdfb" stroke-width="14.5" stroke-linecap="round" stroke-linejoin="round" />
<path d="M401.9,1587.0 C402.5,1592.2 403.1,1607.5 405.3,1618.4 C407.5,1629.2 411.1,1641.5 415.4,1651.9 C419.7,1662.4 424.7,1671.7 431.0,1681.0 C437.4,1690.4 446.0,1700.4 453.4,1707.9 C460.9,1715.4 472.1,1722.8 475.8,1725.8" fill="none" stroke="#fdfdfb" stroke-width="14.5" stroke-linecap="round" stroke-linejoin="round" />
<path d="M446.7,1591.5 C447.1,1597.1 447.1,1615.0 449.0,1625.1 C450.8,1635.1 454.2,1643.4 457.9,1651.9 C461.6,1660.5 466.7,1669.5 471.3,1676.6 C476.0,1683.7 483.5,1691.5 485.9,1694.5" fill="none" stroke="#fdfdfb" stroke-width="14.5" stroke-linecap="round" stroke-linejoin="round" />
<path d="M413.1,1645.2 L453.4,1638.5 M460.1,1710.1 L484.8,1694.5" fill="none" stroke="#fdfdfb" stroke-width="12.5" stroke-linecap="round" stroke-linejoin="round" />
<path d="M475.8,1725.8 L489.3,1696.7 L525.1,1685.5 L525.1,1719.1 L498.2,1734.8 Z" fill="#fdfdfb" />
<path d="M404.2,1584.8 L419.8,1571.3 L449.0,1578.1 L453.4,1640.7 L417.6,1651.9 Z" fill="#fdfdfb" />
<path d="M346.6,1630.9 L276.1,1655.5 A11.6,11.6 0 0 0 283.8,1677.5 L354.3,1652.9 A11.6,11.6 0 0 0 346.6,1630.9 Z" fill="none" stroke="#fdfdfb" stroke-width="12.5" stroke-linecap="round" stroke-linejoin="round" />
<path d="M234.9,1673.6 L175.9,1696.9 A9.4,9.4 0 0 0 182.5,1714.5 L242.1,1692.9 A10.3,10.3 0 0 0 234.9,1673.6 Z" fill="none" stroke="#fdfdfb" stroke-width="12.5" stroke-linecap="round" stroke-linejoin="round" />
<ellipse cx="256.4" cy="1676.6" rx="8.1" ry="20.1" transform="rotate(-15 256.4 1676.6)" fill="none" stroke="#fdfdfb" stroke-width="12.5"/>
<path d="M360.2,1692.2 L281.9,1729.1 A11.2,11.2 0 0 0 291.4,1749.4 L369.8,1712.4 A11.2,11.2 0 0 0 360.2,1692.2 Z" fill="none" stroke="#fdfdfb" stroke-width="12.5" stroke-linecap="round" stroke-linejoin="round" />
<path d="M245.8,1752.7 L182.4,1789.3 A9.4,9.4 0 0 0 191.6,1805.7 L255.9,1770.6 A10.3,10.3 0 0 0 245.8,1752.7 Z" fill="none" stroke="#fdfdfb" stroke-width="12.5" stroke-linecap="round" stroke-linejoin="round" />
<ellipse cx="266.5" cy="1751.6" rx="7.6" ry="18.4" transform="rotate(-28 266.5 1751.6)" fill="none" stroke="#fdfdfb" stroke-width="12.5"/>
<path d="M372.3,1725.8 L317.5,1756.0 A10.3,10.3 0 0 0 327.4,1774.0 L382.3,1743.8 A10.3,10.3 0 0 0 372.3,1725.8 Z" fill="none" stroke="#fdfdfb" stroke-width="12.5" stroke-linecap="round" stroke-linejoin="round" />
<path d="M296.2,1772.4 L245.2,1811.2 A9.4,9.4 0 0 0 256.4,1826.3 L308.4,1789.0 A10.3,10.3 0 0 0 296.2,1772.4 Z" fill="none" stroke="#fdfdfb" stroke-width="12.5" stroke-linecap="round" stroke-linejoin="round" />
<ellipse cx="313.5" cy="1770.6" rx="4.9" ry="11.6" transform="rotate(-30 313.5 1770.6)" fill="none" stroke="#fdfdfb" stroke-width="12.5"/>
<path d="M408.3,1755.5 L361.3,1789.1 A10.3,10.3 0 0 0 373.2,1805.8 L420.2,1772.3 A10.3,10.3 0 0 0 408.3,1755.5 Z" fill="none" stroke="#fdfdfb" stroke-width="12.5" stroke-linecap="round" stroke-linejoin="round" />
<path d="M338.7,1825.9 L316.0,1864.4 A9.0,9.0 0 0 0 331.2,1873.8 L355.5,1836.2 A9.9,9.9 0 0 0 338.7,1825.9 Z" fill="none" stroke="#fdfdfb" stroke-width="12.5" stroke-linecap="round" stroke-linejoin="round" />
<ellipse cx="360.5" cy="1816.5" rx="22.4" ry="8.5" transform="rotate(30 360.5 1816.5)" fill="none" stroke="#fdfdfb" stroke-width="12.5"/>
</g>
<text x="1274" y="171" font-size="74" textLength="767" lengthAdjust="spacingAndGlyphs">Air Quality Sensor &amp;</text>
<text x="1352" y="277.5" font-size="74" textLength="608" lengthAdjust="spacingAndGlyphs">Smoke Detector</text>
<text x="318" y="411.5" font-size="74" textLength="591" lengthAdjust="spacingAndGlyphs">Emergency LED</text>
<text x="477" y="516.5" font-size="74" textLength="274" lengthAdjust="spacingAndGlyphs">Lighting</text>
<text x="1661" y="474" font-size="74" textLength="241" lengthAdjust="spacingAndGlyphs">Optical</text>
<text x="1621" y="580" font-size="74" textLength="321" lengthAdjust="spacingAndGlyphs">Reciever</text>
<text x="411" y="935" font-size="74" textLength="245" lengthAdjust="spacingAndGlyphs">Audible</text>
<text x="293" y="1041" font-size="74" textLength="483" lengthAdjust="spacingAndGlyphs">Alert System</text>
<text x="159" y="1323" font-size="74" textLength="148" lengthAdjust="spacingAndGlyphs">Test</text>
<text x="107" y="1429.5" font-size="74" textLength="252" lengthAdjust="spacingAndGlyphs">Probes</text>
<text x="1689" y="1411.5" font-size="74" textLength="458" lengthAdjust="spacingAndGlyphs">Supplemental</text>
<text x="1803" y="1516.5" font-size="74" textLength="225" lengthAdjust="spacingAndGlyphs">Power</text>
<text x="2084" y="1629" font-size="74" textLength="457" lengthAdjust="spacingAndGlyphs">Supplemental</text>
<text x="2188" y="1736" font-size="74" textLength="249" lengthAdjust="spacingAndGlyphs">Cooling</text>
<text x="1591" y="1863" font-size="74" textLength="478" lengthAdjust="spacingAndGlyphs">Condensation</text>
<text x="1631" y="1970" font-size="74" textLength="396" lengthAdjust="spacingAndGlyphs">Evaporator</text>
<text x="1781" y="2180" font-size="74" textLength="728" lengthAdjust="spacingAndGlyphs">Emergency Sleeping</text>
<text x="1781" y="2283.5" font-size="74" textLength="728" lengthAdjust="spacingAndGlyphs">Deployment Console</text>
<text x="152" y="2578.5" font-size="74" textLength="691" lengthAdjust="spacingAndGlyphs">Hot air hovercraft</text>
<text x="281" y="2685" font-size="74" textLength="433" lengthAdjust="spacingAndGlyphs">mobility unit</text>
<path d="M1325,211 Q1251,252 1198,323 M1196,277 L1198,323 L1244,303" fill="none" stroke="#fdfdfb" stroke-width="10" stroke-linecap="round" stroke-linejoin="round"/>
<path d="M1613,505 C1565,529 1512,578 1451,644 M1444,620 L1451,644 L1477,643" fill="none" stroke="#fdfdfb" stroke-width="10" stroke-linecap="round" stroke-linejoin="round"/>
<path d="M743,957 C828,923 915,903 1040,891 M1018,871 L1040,891 L1020,915" fill="none" stroke="#fdfdfb" stroke-width="10" stroke-linecap="round" stroke-linejoin="round"/>
<path d="M1728,1475 Q1619,1439 1530,1410 M1571,1410 L1530,1410 L1550,1436" fill="none" stroke="#fdfdfb" stroke-width="10" stroke-linecap="round" stroke-linejoin="round"/>
<path d="M2081,1686 L1856,1689 Q1700,1660 1512,1597 M1538,1594 L1512,1597 L1527,1625" fill="none" stroke="#fdfdfb" stroke-width="10" stroke-linecap="round" stroke-linejoin="round"/>
<path d="M1620,1905 L1416,1904 M1455,1882 L1416,1904 L1458,1923" fill="none" stroke="#fdfdfb" stroke-width="10" stroke-linecap="round" stroke-linejoin="round"/>
<path d="M1749,2206 Q1640,2140 1537,2081 M1569,2083 L1537,2081 L1549,2112" fill="none" stroke="#fdfdfb" stroke-width="10" stroke-linecap="round" stroke-linejoin="round"/>
<path d="M510,2481 C553,2431 621,2395 698,2384 M673,2370 L698,2384 L662,2417" fill="none" stroke="#fdfdfb" stroke-width="10" stroke-linecap="round" stroke-linejoin="round"/>
<path d="M279,1468 L273,1636 M257,1604 L273,1636 L301,1602" fill="none" stroke="#fdfdfb" stroke-width="10" stroke-linecap="round" stroke-linejoin="round"/>
<path d="M872,478 C905,500 945,545 965,581 Q980,605 990,624 M959,604 L990,624 L986,571" fill="none" stroke="#fdfdfb" stroke-width="10" stroke-linecap="round" stroke-linejoin="round"/>
</svg></body></html>
